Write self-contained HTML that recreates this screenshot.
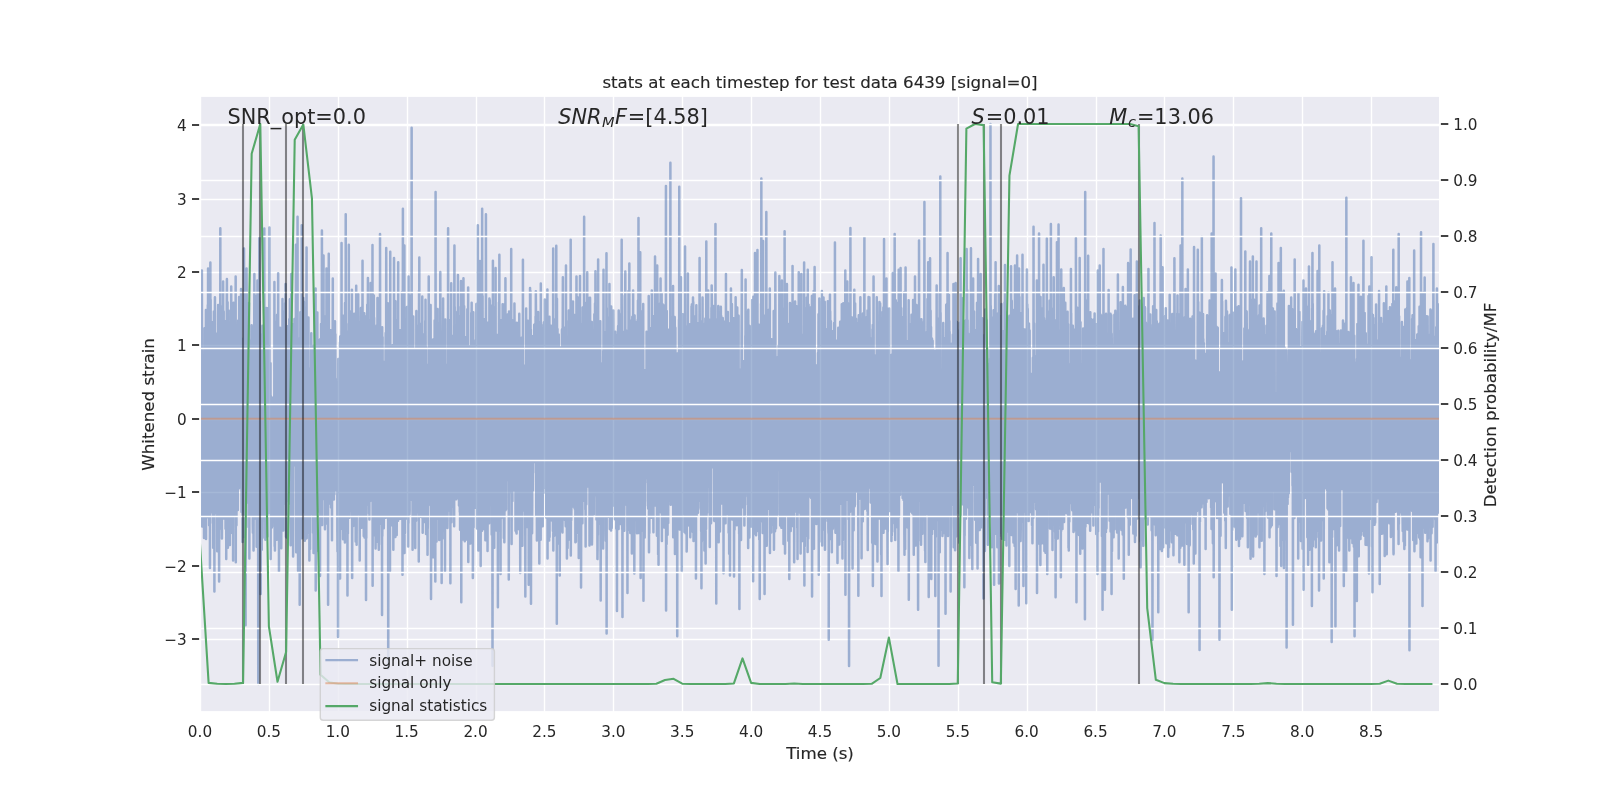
<!DOCTYPE html>
<html lang="en"><head><meta charset="utf-8"><title>stats at each timestep</title>
<style>html,body{margin:0;padding:0;background:#fff}body{width:1600px;height:800px;overflow:hidden}svg{display:block;will-change:transform}text{font-family:'DejaVu Sans','Liberation Sans',sans-serif;fill:#262626}.tk{font-size:15.28px}.lb{font-size:16.67px;stroke:#262626;stroke-width:.15px}.an{font-size:20.83px}.g{stroke:#fff;stroke-width:1.39;fill:none}.t{stroke:#262626;stroke-width:1.74;fill:none}</style></head><body>
<svg width="1600" height="800" viewBox="0 0 1600 800">
<defs><clipPath id="ax"><rect x="200" y="96" width="1240" height="616"/></clipPath></defs>
<rect width="1600" height="800" fill="#fff"/>
<rect x="200" y="96" width="1240" height="616" fill="#eaeaf2"/>
<g class="g" clip-path="url(#ax)">
<path d="M200.5 96V712"/>
<path d="M269.5 96V712"/>
<path d="M338.5 96V712"/>
<path d="M407.5 96V712"/>
<path d="M476.5 96V712"/>
<path d="M544.5 96V712"/>
<path d="M613.5 96V712"/>
<path d="M682.5 96V712"/>
<path d="M751.5 96V712"/>
<path d="M820.5 96V712"/>
<path d="M889.5 96V712"/>
<path d="M958.5 96V712"/>
<path d="M1027.5 96V712"/>
<path d="M1096.5 96V712"/>
<path d="M1164.5 96V712"/>
<path d="M1233.5 96V712"/>
<path d="M1302.5 96V712"/>
<path d="M1371.5 96V712"/>
<path d="M200 639.5H1440"/>
<path d="M200 566.5H1440"/>
<path d="M200 492.5H1440"/>
<path d="M200 419.5H1440"/>
<path d="M200 345.5H1440"/>
<path d="M200 272.5H1440"/>
<path d="M200 199.5H1440"/>
<path d="M200 125.5H1440"/>
</g>
<g clip-path="url(#ax)">
<path d="M200 418.59L200.13 391.34L200.27 443.81L200.4 498.97L200.54 460.35L200.67 504.96L200.81 413.19L200.94 311.16L201.08 463.78L201.21 475.53L201.35 373.83L201.48 386.01L201.61 409.04L201.75 501.33L201.88 270.38L202.02 355.01L202.15 526.49L202.29 460.62L202.42 357.86L202.56 523.1L202.69 428.96L202.83 440.23L202.96 521.73L203.09 393.85L203.23 404.34L203.36 435.82L203.5 439.26L203.63 468.04L203.77 423.14L203.9 408.32L204.04 538L204.17 462.46L204.31 504.18L204.44 492.79L204.57 328.33L204.71 492.67L204.84 421.68L204.98 338.8L205.11 472.16L205.25 428.93L205.38 408.58L205.52 412.86L205.65 519.11L205.79 411.73L205.92 310.01L206.05 539.05L206.19 340.29L206.32 407.77L206.46 477.46L206.59 495.21L206.73 348.88L206.86 517.51L207 411.87L207.13 365.88L207.27 435.99L207.4 356.15L207.53 424.79L207.67 357.58L207.8 305.07L207.94 480.59L208.07 268.5L208.21 461.14L208.34 407.04L208.48 516.76L208.61 471.76L208.75 436.67L208.88 337.95L209.01 323.24L209.15 525.2L209.28 491.49L209.42 359.45L209.55 342.48L209.69 461.12L209.82 427.61L209.96 567.88L210.09 355.55L210.23 448.67L210.36 262.62L210.49 441.62L210.63 299.81L210.76 457.91L210.9 446.52L211.03 386.4L211.17 429.76L211.3 436.77L211.44 512.23L211.57 419.76L211.71 459.33L211.84 321.94L211.97 358.88L212.11 420.91L212.24 357.48L212.38 449.83L212.51 328.85L212.65 419.19L212.78 365.26L212.92 523.18L213.05 386.95L213.19 547.74L213.32 337.44L213.45 446.59L213.59 499.52L213.72 403.67L213.86 311.49L213.99 494.88L214.13 475.85L214.26 399.89L214.4 591.62L214.53 434.86L214.67 437.56L214.8 354.36L214.93 297.25L215.07 507.45L215.2 425.95L215.34 415.47L215.47 508.69L215.61 394.9L215.74 497.03L215.88 333.6L216.01 401.05L216.15 410.52L216.28 472.84L216.41 429.56L216.55 347.98L216.68 513.31L216.82 385.47L216.95 372.88L217.09 341.15L217.22 551.28L217.36 349.39L217.49 496.14L217.63 347.35L217.76 406.71L217.89 538.41L218.03 316.8L218.16 304.88L218.3 424.73L218.43 443.79L218.57 433.34L218.7 503.98L218.84 326.1L218.97 468.43L219.11 581.62L219.24 491.36L219.38 476.05L219.51 522.37L219.64 316.31L219.78 432.81L219.91 333.97L220.05 417.48L220.18 482.3L220.32 228.25L220.45 470.02L220.59 417.97L220.72 453.07L220.86 446.17L220.99 528.61L221.12 492.6L221.26 460.86L221.39 480.18L221.53 508.66L221.66 387.8L221.8 307.01L221.93 538.5L222.07 437.8L222.2 476.59L222.34 408.56L222.47 351.38L222.6 420.85L222.74 412.16L222.87 487.61L223.01 377.04L223.14 281.62L223.28 431.79L223.41 511.88L223.55 518.55L223.68 311.45L223.82 465.15L223.95 391.98L224.08 421.8L224.22 459.11L224.35 465.23L224.49 360.99L224.62 446.35L224.76 432.57L224.89 416.66L225.03 321.3L225.16 356.37L225.3 383.66L225.43 470.32L225.56 528.82L225.7 334.94L225.83 333.93L225.97 431.59L226.1 369.07L226.24 559.12L226.37 342.57L226.51 336.61L226.64 460.43L226.78 300.34L226.91 279.12L227.04 340.15L227.18 373.46L227.31 339.44L227.45 373.07L227.58 302.23L227.72 514.16L227.85 547.77L227.99 343.88L228.12 506.35L228.26 419.84L228.39 341.78L228.52 545.02L228.66 310.46L228.79 394.95L228.93 414.63L229.06 441.21L229.2 415.17L229.33 497.18L229.47 536.97L229.6 433.96L229.74 503.78L229.87 545L230 372.38L230.14 424.32L230.27 381.46L230.41 504.82L230.54 478.98L230.68 505.4L230.81 498.73L230.95 400.8L231.08 490.42L231.22 286.38L231.35 387.58L231.48 511.8L231.62 529.49L231.75 338.59L231.89 426.9L232.02 419.99L232.16 533.03L232.29 460.85L232.43 350.63L232.56 426.25L232.7 411.28L232.83 445.33L232.96 322.66L233.1 560.38L233.23 429.47L233.37 482.09L233.5 338.67L233.64 302.67L233.77 467.26L233.91 311.57L234.04 414.38L234.18 515.85L234.31 501.94L234.44 324.14L234.58 404.26L234.71 414.3L234.85 423.6L234.98 415.18L235.12 344.93L235.25 368.09L235.39 398.94L235.52 508L235.66 276.38L235.79 562.25L235.92 326.38L236.06 521.96L236.19 431.31L236.33 419.37L236.46 525.27L236.6 408.97L236.73 483.11L236.87 461.16L237 348.01L237.14 384.01L237.27 406.7L237.4 395.76L237.54 424.32L237.67 411.08L237.81 510.02L237.94 443.37L238.08 435.03L238.21 320.58L238.35 388.07L238.48 419.21L238.62 460.78L238.75 469.56L238.88 454.37L239.02 488.19L239.15 296.99L239.29 334.06L239.42 336.88L239.56 357.43L239.69 408.61L239.83 398.96L239.96 441.78L240.1 437.35L240.23 413.73L240.36 445.96L240.5 367.8L240.63 424.05L240.77 471.77L240.9 476.86L241.04 289.12L241.17 372.29L241.31 412.51L241.44 450.41L241.58 511.93L241.71 424.82L241.84 339.44L241.98 454.66L242.11 439.51L242.25 438.95L242.38 408.66L242.52 541.89L242.65 440.26L242.79 496.82L242.92 338.79L243.06 489.28L243.19 537.25L243.32 339.12L243.46 447.42L243.59 473.8L243.73 401.17L243.86 418.89L244 248.5L244.13 376.48L244.27 532.3L244.4 442.34L244.54 437.28L244.67 508.12L244.8 389.47L244.94 520.46L245.07 511.8L245.21 314.91L245.34 499.85L245.48 327.12L245.61 625.31L245.75 394.95L245.88 368.01L246.02 425.54L246.15 436.72L246.28 473.02L246.42 527.04L246.55 268.5L246.69 302.56L246.82 334.34L246.96 502.02L247.09 496.88L247.23 464.88L247.36 391.93L247.5 437.51L247.63 399.06L247.76 391.52L247.9 446.07L248.03 422.38L248.17 399.78L248.3 426.39L248.44 372.58L248.57 502.38L248.71 364.48L248.84 413.59L248.98 302.89L249.11 383.16L249.24 470.96L249.38 558.5L249.51 340.57L249.65 354.01L249.78 432.43L249.92 457.33L250.05 452.71L250.19 480.87L250.32 360.37L250.46 479.29L250.59 398.83L250.72 490.08L250.86 515.73L250.99 423.84L251.13 434.89L251.26 514.55L251.4 408.04L251.53 514.52L251.67 325.29L251.8 328.23L251.94 326.92L252.07 462.12L252.2 371.57L252.34 430.8L252.47 454.31L252.61 449.76L252.74 523.73L252.88 532.66L253.01 345.94L253.15 436.22L253.28 398.88L253.42 331.84L253.55 550.49L253.68 490.52L253.82 402.64L253.95 382.79L254.09 453.24L254.22 330.21L254.36 274.12L254.49 518.38L254.63 501.35L254.76 344.92L254.9 376.21L255.03 356.68L255.16 310.7L255.3 363.92L255.43 310.97L255.57 453.85L255.7 445.79L255.84 513L255.97 330.74L256.11 434.77L256.24 295.85L256.38 477.99L256.51 403.69L256.64 546.71L256.78 453.77L256.91 332.91L257.05 520.76L257.18 327.66L257.32 387.81L257.45 280.38L257.59 464.64L257.72 460.75L257.86 423.24L257.99 467.81L258.12 494.48L258.26 684L258.39 507.05L258.53 523.1L258.66 423.11L258.8 338.89L258.93 537.95L259.07 418.38L259.2 478.23L259.34 237.25L259.47 340.64L259.61 466.16L259.74 301.37L259.87 490.13L260.01 383.3L260.14 439.52L260.28 487.77L260.41 364.87L260.55 432.9L260.68 594.12L260.82 423.03L260.95 510.55L261.09 428.05L261.22 413.94L261.35 334.41L261.49 499.9L261.62 422.3L261.76 549.8L261.89 359.03L262.03 510.29L262.16 502.4L262.3 424.12L262.43 325.67L262.57 537.65L262.7 510.68L262.83 486.78L262.97 513.19L263.1 383.95L263.24 492.65L263.37 484.79L263.51 365.27L263.64 487.9L263.78 379.06L263.91 503.76L264.05 518.31L264.18 453.63L264.31 228.5L264.45 448.03L264.58 396.36L264.72 421.54L264.85 404.05L264.99 414.15L265.12 506.24L265.26 507.77L265.39 539.69L265.53 506.17L265.66 525.9L265.79 350.28L265.93 343.56L266.06 503.16L266.2 529.35L266.33 451.2L266.47 308.01L266.6 321.41L266.74 370.46L266.87 509.95L267.01 329.55L267.14 510.08L267.27 444.84L267.41 536.52L267.54 504.11L267.68 308.34L267.81 343.54L267.95 455.49L268.08 497.75L268.22 410.38L268.35 454.76L268.49 421.53L268.62 426.4L268.75 427.29L268.89 512.71L269.02 424.77L269.16 422.24L269.29 314.24L269.43 227.5L269.56 431.25L269.7 488.89L269.83 424.65L269.97 474.36L270.1 486.7L270.23 424.07L270.37 508.02L270.5 363.18L270.64 559.12L270.77 395.8L270.91 435.46L271.04 485.31L271.18 502.37L271.31 440.43L271.45 468.96L271.58 397.28L271.71 419.11L271.85 527.61L271.98 412.55L272.12 526.4L272.25 475.17L272.39 445.66L272.52 513.09L272.66 410.32L272.79 404.87L272.93 433.17L273.06 457.57L273.19 452.92L273.33 504.06L273.46 443.4L273.6 469.32L273.73 410.3L273.87 517.81L274 397.12L274.14 405.58L274.27 431.67L274.41 281.88L274.54 368.11L274.67 546.29L274.81 376.52L274.94 550.38L275.08 392.74L275.21 383.59L275.35 478.57L275.48 442.47L275.62 360.35L275.75 379.25L275.89 399.77L276.02 537.02L276.15 369.43L276.29 321.74L276.42 331.37L276.56 397.28L276.69 539.71L276.83 335.35L276.96 432.19L277.1 314.72L277.23 384.15L277.37 535.65L277.5 523.53L277.63 476.86L277.77 315.35L277.9 452.67L278.04 393.88L278.17 273.25L278.31 481.63L278.44 428.17L278.58 440.82L278.71 521.32L278.85 482.31L278.98 571.62L279.11 382.45L279.25 408.6L279.38 332.25L279.52 489.45L279.65 423.84L279.79 351.72L279.92 365.19L280.06 327.74L280.19 382.33L280.33 447.04L280.46 385.52L280.59 505.61L280.73 544.76L280.86 365.51L281 423.75L281.13 390.45L281.27 548.32L281.4 452.14L281.54 473.64L281.67 497.4L281.81 470.03L281.94 449.37L282.07 338.04L282.21 383.8L282.34 473.74L282.48 299.12L282.61 349.38L282.75 427.06L282.88 430.11L283.02 368.94L283.15 356.22L283.29 530.39L283.42 323.87L283.55 390.07L283.69 391.04L283.82 346.62L283.96 468.1L284.09 422.38L284.23 337.51L284.36 486.94L284.5 433.29L284.63 423.13L284.77 400.52L284.9 310.98L285.03 421.48L285.17 303.16L285.3 503.48L285.44 435.74L285.57 284.12L285.71 346.66L285.84 329.26L285.98 536.72L286.11 500.42L286.25 387.85L286.38 479.03L286.51 537.52L286.65 329.66L286.78 373.45L286.92 373.53L287.05 462.25L287.19 330.23L287.32 440.68L287.46 326.22L287.59 500.22L287.73 496.8L287.86 399.95L287.99 483.03L288.13 356.83L288.26 394.88L288.4 500.89L288.53 412.03L288.67 450.88L288.8 336.94L288.94 476.64L289.07 458.93L289.21 319.15L289.34 360.38L289.47 418.82L289.61 412.91L289.74 398.65L289.88 299.19L290.01 430.1L290.15 504.05L290.28 407.99L290.42 377.34L290.55 494.65L290.69 545.17L290.82 532.22L290.95 357.75L291.09 488.16L291.22 274.12L291.36 399.23L291.49 361.99L291.63 449.38L291.76 373.02L291.9 498.93L292.03 451.83L292.17 506.9L292.3 324.07L292.43 421.18L292.57 486.42L292.7 450.98L292.84 439.01L292.97 354.53L293.11 556.62L293.24 507.66L293.38 453.33L293.51 403.88L293.65 334.57L293.78 428.91L293.91 353.48L294.05 330.48L294.18 440.11L294.32 452.26L294.45 319.11L294.59 373.44L294.72 357.21L294.86 465.25L294.99 373.53L295.13 328.57L295.26 366.86L295.39 356.02L295.53 412.85L295.66 360.29L295.8 436.48L295.93 244.75L296.07 356.19L296.2 552.25L296.34 497.18L296.47 385L296.61 486.61L296.74 448.94L296.88 474.07L297.01 449.99L297.14 288.19L297.28 318.8L297.41 395.49L297.55 216.79L297.68 546.96L297.82 416.63L297.95 526.62L298.09 571L298.22 517.98L298.36 464.67L298.49 411.4L298.62 512.66L298.76 387.33L298.89 536.77L299.03 391.46L299.16 428.73L299.3 447.43L299.43 425.39L299.57 468.14L299.7 604.75L299.84 547.41L299.97 421.41L300.1 337.47L300.24 407.77L300.37 312.3L300.51 354.05L300.64 480.66L300.78 324.3L300.91 423.84L301.05 425.01L301.18 445.38L301.32 410.28L301.45 458.56L301.58 426.37L301.72 225.31L301.85 452.93L301.99 538.26L302.12 425.07L302.26 440.56L302.39 369.94L302.53 353.84L302.66 512.21L302.8 437.68L302.93 336.79L303.06 393.98L303.2 407.53L303.33 297.92L303.47 480.78L303.6 411.12L303.74 466.34L303.87 301.87L304.01 509.64L304.14 480.08L304.28 467.17L304.41 357.92L304.54 363.17L304.68 307.76L304.81 540.72L304.95 349.96L305.08 445.56L305.22 479.67L305.35 369.28L305.49 500.72L305.62 385.91L305.76 452.61L305.89 536L306.02 478.14L306.16 384.67L306.29 538.5L306.43 295.88L306.56 247.5L306.7 538.2L306.83 487.96L306.97 500.67L307.1 518.66L307.24 378.82L307.37 477.8L307.5 457.88L307.64 354.86L307.77 428.91L307.91 386.01L308.04 409.02L308.18 360.84L308.31 415.22L308.45 317.6L308.58 379.77L308.72 382.79L308.85 381.16L308.98 533.45L309.12 433.78L309.25 442.45L309.39 560.38L309.52 527.38L309.66 404.53L309.79 409.14L309.93 518.26L310.06 549.01L310.2 444.46L310.33 426.91L310.46 484.49L310.6 410.26L310.73 477.43L310.87 368.17L311 485.07L311.14 422.23L311.27 333.2L311.41 359.22L311.54 505.91L311.68 461.25L311.81 495.63L311.94 346.86L312.08 514.34L312.21 463.07L312.35 421.41L312.48 504.19L312.62 502.92L312.75 462.27L312.89 406.54L313.02 532.76L313.16 456.53L313.29 405.12L313.42 435.71L313.56 552.99L313.69 461.18L313.83 345.57L313.96 367.78L314.1 425.91L314.23 498.77L314.37 360.88L314.5 471.73L314.64 515.65L314.77 492.18L314.9 304.47L315.04 398.53L315.17 322.37L315.31 462.61L315.44 335.61L315.58 288.5L315.71 590.38L315.85 406.94L315.98 348.43L316.12 464.61L316.25 426.47L316.38 388.82L316.52 319.2L316.65 463.5L316.79 550.99L316.92 444.31L317.06 417.29L317.19 408.67L317.33 312.62L317.46 389.69L317.6 344.24L317.73 511.45L317.86 339.78L318 395.41L318.13 347.9L318.27 395.48L318.4 404.6L318.54 434.03L318.67 501.14L318.81 428.88L318.94 376.55L319.08 350.55L319.21 458.76L319.34 390.55L319.48 444.16L319.61 407.67L319.75 430.8L319.88 513.94L320.02 576L320.15 339.23L320.29 503.5L320.42 440.78L320.56 357.81L320.69 509.6L320.82 401.97L320.96 509.02L321.09 323.89L321.23 386.21L321.36 330.8L321.5 438.78L321.63 350.9L321.77 407.62L321.9 230.38L322.04 298.31L322.17 524.94L322.3 328.66L322.44 423.19L322.57 306.93L322.71 401.55L322.84 480.31L322.98 393.31L323.11 351.29L323.25 415.42L323.38 374L323.52 255.38L323.65 499.07L323.78 337.88L323.92 354.66L324.05 405.13L324.19 412.43L324.32 329.79L324.46 460.57L324.59 483.42L324.73 435.97L324.86 320.52L325 529.14L325.13 320.35L325.26 477.25L325.4 511.43L325.53 316.13L325.67 427.57L325.8 523.76L325.94 451.56L326.07 336.03L326.21 320.34L326.34 457.82L326.48 268.5L326.61 353.29L326.74 477.75L326.88 386.18L327.01 421.62L327.15 467.8L327.28 463.78L327.42 412.56L327.55 415.97L327.69 470.5L327.82 457.72L327.96 325.21L328.09 604.75L328.22 338.76L328.36 319.73L328.49 364.76L328.63 389.23L328.76 253.75L328.9 344.65L329.03 447.84L329.17 335.62L329.3 432.3L329.44 423.05L329.57 503.61L329.7 357.85L329.84 346.35L329.97 351.23L330.11 425.19L330.24 377.01L330.38 358.89L330.51 425.83L330.65 330.32L330.78 456.34L330.92 360.65L331.05 507.48L331.18 334.4L331.32 439.65L331.45 498.86L331.59 384.45L331.72 500.2L331.86 500.28L331.99 540.3L332.13 421.15L332.26 373.19L332.4 330.58L332.53 431.68L332.66 329.11L332.8 278.5L332.93 427.24L333.07 366.16L333.2 328.48L333.34 449.97L333.47 441.03L333.61 433.43L333.74 411.12L333.88 499.55L334.01 330.28L334.14 455.38L334.28 376.34L334.41 494.31L334.55 385.83L334.68 382.83L334.82 457.23L334.95 321.36L335.09 384.71L335.22 469.95L335.36 334.37L335.49 479.36L335.62 453.71L335.76 378.75L335.89 413.1L336.03 414.17L336.16 444.92L336.3 490.09L336.43 439.35L336.57 444.97L336.7 384.64L336.84 485.2L336.97 484.23L337.11 438.79L337.24 393.72L337.37 531.92L337.51 551.44L337.64 509.38L337.78 478.15L337.91 503.49L338.05 637.07L338.18 508.81L338.32 359.03L338.45 528.18L338.59 391.3L338.72 447.99L338.85 424.18L338.99 366.6L339.12 440.69L339.26 400.87L339.39 407.31L339.53 503.88L339.66 365.27L339.8 441.24L339.93 342.49L340.07 578.5L340.2 336.39L340.33 515.81L340.47 445.87L340.6 338.98L340.74 450.82L340.87 491.26L341.01 443.05L341.14 528.7L341.28 407.8L341.41 409.56L341.55 243.12L341.68 511.92L341.81 497.94L341.95 455.77L342.08 331.68L342.22 493.95L342.35 481.92L342.49 338.78L342.62 339.97L342.76 452.94L342.89 512.46L343.03 539.21L343.16 482.73L343.29 315.64L343.43 350.02L343.56 476.41L343.7 374.62L343.83 409.53L343.97 321.52L344.1 514.53L344.24 339.7L344.37 322.45L344.51 487.06L344.64 502.69L344.77 428.75L344.91 542.41L345.04 303.08L345.18 383.72L345.31 511.79L345.45 443.39L345.58 439.5L345.72 214.29L345.85 393.84L345.99 438.27L346.12 323.75L346.25 435.08L346.39 418.72L346.52 484.15L346.66 406.56L346.79 398.48L346.93 500.22L347.06 477.41L347.2 346.1L347.33 386.73L347.47 595.38L347.6 420.12L347.73 331.44L347.87 533.81L348 391.06L348.14 439.87L348.27 346.9L348.41 398.45L348.54 437.76L348.68 468.27L348.81 244.75L348.95 469.14L349.08 350.47L349.21 455.17L349.35 459.11L349.48 517.69L349.62 423.24L349.75 499.17L349.89 435.26L350.02 329.46L350.16 385.18L350.29 372.47L350.43 386.08L350.56 413.28L350.69 430.36L350.83 446.89L350.96 349.17L351.1 510.45L351.23 311.13L351.37 415.58L351.5 487.28L351.64 463.5L351.77 480.71L351.91 289.75L352.04 484.45L352.17 577.88L352.31 490.3L352.44 369.95L352.58 485.66L352.71 411.59L352.85 422.35L352.98 328.43L353.12 359.37L353.25 526.08L353.39 488.52L353.52 521.32L353.65 389.53L353.79 418.32L353.92 328.62L354.06 370.12L354.19 313.86L354.33 405.93L354.46 386.21L354.6 362.18L354.73 474.82L354.87 508.94L355 413.9L355.13 502.32L355.27 424.33L355.4 409.9L355.54 373.58L355.67 541.62L355.81 429.86L355.94 433.75L356.08 378.64L356.21 285.75L356.35 463.63L356.48 493.93L356.61 544.83L356.75 501.08L356.88 369.56L357.02 414.52L357.15 506.37L357.29 452.84L357.42 415.82L357.56 372.56L357.69 473.05L357.83 441.64L357.96 422.22L358.09 514.54L358.23 293.98L358.36 488.63L358.5 449.64L358.63 398.62L358.77 452.99L358.9 492.72L359.04 424.29L359.17 419.15L359.31 426.22L359.44 376.17L359.57 432.2L359.71 560.38L359.84 468.87L359.98 397.91L360.11 360.01L360.25 338.07L360.38 464.17L360.52 336.45L360.65 321.47L360.79 323.77L360.92 308.09L361.05 432.04L361.19 434.65L361.32 343.13L361.46 527.87L361.59 399.52L361.73 467.3L361.86 452.48L362 323.07L362.13 498.96L362.27 420.58L362.4 338.56L362.53 260.75L362.67 426.06L362.8 436.04L362.94 494.79L363.07 381.85L363.21 441.38L363.34 363.2L363.48 412.81L363.61 421.67L363.75 535.97L363.88 497.2L364.01 533.54L364.15 517.38L364.28 313.33L364.42 397.94L364.55 537.38L364.69 358.83L364.82 316.11L364.96 451.66L365.09 480.62L365.23 449.6L365.36 392.63L365.49 360.08L365.63 320.95L365.76 319.07L365.9 320.75L366.03 600L366.17 358.12L366.3 538.05L366.44 430.7L366.57 389.95L366.71 453.79L366.84 337.21L366.97 451.69L367.11 501.05L367.24 304.72L367.38 357.7L367.51 398.62L367.65 336.29L367.78 328.23L367.92 277.88L368.05 428.7L368.19 480.58L368.32 460.52L368.45 504.52L368.59 400.5L368.72 320.33L368.86 463.12L368.99 513.52L369.13 485.08L369.26 460.05L369.4 519.6L369.53 396.93L369.67 379.71L369.8 483.28L369.93 346.3L370.07 463.34L370.2 500.88L370.34 402.34L370.47 348.1L370.61 282.88L370.74 388.42L370.88 427.26L371.01 420.1L371.15 483.6L371.28 308.44L371.41 423.49L371.55 430.31L371.68 352.6L371.82 338.23L371.95 315.69L372.09 388.6L372.22 473.69L372.36 467.95L372.49 245L372.63 585.75L372.76 307.58L372.89 380.37L373.03 328.37L373.16 465L373.3 403.6L373.43 535.24L373.57 516.27L373.7 532.28L373.84 295.59L373.97 496.32L374.11 317.87L374.24 365.05L374.38 396.48L374.51 331.76L374.64 428.08L374.78 437.02L374.91 410.9L375.05 402.65L375.18 467.31L375.32 421.69L375.45 467.2L375.59 548.59L375.72 395.02L375.86 499.94L375.99 401.57L376.12 341.77L376.26 423.98L376.39 347.9L376.53 541.7L376.66 325.6L376.8 473.94L376.93 361.69L377.07 401.99L377.2 466.38L377.34 487.95L377.47 297.88L377.6 297.92L377.74 392.39L377.87 395.1L378.01 530.73L378.14 492.73L378.28 340.36L378.41 416.08L378.55 438.83L378.68 543.51L378.82 549.75L378.95 355.62L379.08 353.01L379.22 315.9L379.35 369.05L379.49 504.57L379.62 311.38L379.76 519.7L379.89 438L380.03 234.12L380.16 338.89L380.3 380.6L380.43 383.27L380.56 488.45L380.7 523.09L380.83 413.07L380.97 483.75L381.1 524.23L381.24 521.64L381.37 463.59L381.51 362.86L381.64 526.69L381.78 544.49L381.91 402.01L382.04 615.11L382.18 327.36L382.31 535.98L382.45 480.95L382.58 337.13L382.72 438.56L382.85 448.65L382.99 457.88L383.12 449.7L383.26 514.84L383.39 524.8L383.52 387.95L383.66 390.74L383.79 528.19L383.93 504.59L384.06 369.72L384.2 365.82L384.33 477.62L384.47 361.71L384.6 366.32L384.74 408.37L384.87 447.28L385 380.68L385.14 471.19L385.27 435.7L385.41 444.62L385.54 349.81L385.68 332.94L385.81 517.82L385.95 461.11L386.08 513.04L386.22 247.88L386.35 317.73L386.48 332.95L386.62 405L386.75 515.17L386.89 361.31L387.02 484.21L387.16 378.69L387.29 424.45L387.43 353.84L387.56 401.49L387.7 500.21L387.83 303.28L387.96 385.42L388.1 420.02L388.23 668.87L388.37 517.71L388.5 434.94L388.64 412.03L388.77 348.23L388.91 410.28L389.04 504.95L389.18 433.76L389.31 428.68L389.44 521.95L389.58 313.8L389.71 422.81L389.85 319.29L389.98 571L390.12 449.56L390.25 251.87L390.39 520.14L390.52 444.25L390.66 525.04L390.79 407.94L390.92 481.23L391.06 487.59L391.19 398.01L391.33 499.36L391.46 514.43L391.6 519.78L391.73 459.14L391.87 525.2L392 374.45L392.14 484.31L392.27 354.13L392.4 449.32L392.54 345.29L392.67 392.05L392.81 393.08L392.94 363.08L393.08 471.78L393.21 455.74L393.35 549.76L393.48 459.17L393.62 531.32L393.75 431.95L393.88 502.94L394.02 257.88L394.15 377.18L394.29 531.19L394.42 493.19L394.56 502.09L394.69 350.32L394.83 381.82L394.96 340.75L395.1 450.71L395.23 303.43L395.36 537.01L395.5 301.31L395.63 478.81L395.77 455.48L395.9 492.4L396.04 524.39L396.17 507.35L396.31 403.22L396.44 438.35L396.58 409.34L396.71 535.1L396.84 481.12L396.98 375.84L397.11 398.3L397.25 319.89L397.38 411.4L397.52 495.07L397.65 484.26L397.79 394.95L397.92 373.23L398.06 520.85L398.19 262.25L398.32 502.06L398.46 370.09L398.59 424.36L398.73 508.1L398.86 450.6L399 465.8L399.13 463.34L399.27 349.67L399.4 358.95L399.54 471.59L399.67 499.94L399.8 392.84L399.94 427.86L400.07 330.27L400.21 518.69L400.34 341.49L400.48 421.88L400.61 434.46L400.75 496.95L400.88 499.92L401.02 505.66L401.15 454.91L401.28 457.82L401.42 350.58L401.55 455.25L401.69 436.79L401.82 518.69L401.96 292.33L402.09 372.26L402.23 333.63L402.36 345.71L402.5 574.75L402.63 441.46L402.76 353.01L402.9 208.78L403.03 519.01L403.17 321.31L403.3 544.53L403.44 380.13L403.57 348.61L403.71 314.91L403.84 480.1L403.98 380.47L404.11 498.81L404.24 482.02L404.38 245.38L404.51 552.88L404.65 404.98L404.78 376.29L404.92 533.09L405.05 484.16L405.19 320.86L405.32 350.59L405.46 452.27L405.59 427.06L405.72 367.3L405.86 380.1L405.99 326.07L406.13 349.15L406.26 448.62L406.4 484.05L406.53 330.78L406.67 384.03L406.8 429.18L406.94 307.02L407.07 518.4L407.2 403.39L407.34 480.32L407.47 437.21L407.61 458.02L407.74 407.89L407.88 460.54L408.01 379.09L408.15 546.62L408.28 338.06L408.42 522.92L408.55 276.38L408.68 428.57L408.82 505.37L408.95 419.26L409.09 511.2L409.22 460.54L409.36 296.22L409.49 514.37L409.63 510.79L409.76 327.4L409.9 407.78L410.03 296.02L410.16 388.23L410.3 499.94L410.43 424.94L410.57 315.87L410.7 333.87L410.84 418.62L410.97 414.11L411.11 429.3L411.24 473.17L411.38 393.05L411.51 418.02L411.64 127.69L411.78 463.62L411.91 350.29L412.05 358.29L412.18 431.62L412.32 481.65L412.45 416.45L412.59 549.73L412.72 526.13L412.86 343.46L412.99 463.84L413.12 383.39L413.26 316.59L413.39 357.52L413.53 416.76L413.66 504.69L413.8 355.82L413.93 452.08L414.07 349.76L414.2 380.29L414.34 498.34L414.47 411.83L414.61 434.24L414.74 358.22L414.87 434.94L415.01 445.36L415.14 459.98L415.28 547.92L415.41 452.1L415.55 422.44L415.68 409.1L415.82 515.53L415.95 359.14L416.09 520.63L416.22 439.77L416.35 311.07L416.49 483.89L416.62 466.79L416.76 325.81L416.89 454.85L417.03 446.66L417.16 397.87L417.3 327.29L417.43 340.72L417.57 496.63L417.7 507.53L417.83 512.25L417.97 498.21L418.1 497.24L418.24 390.38L418.37 500.24L418.51 407.2L418.64 381.02L418.78 561.62L418.91 406.44L419.05 290.31L419.18 388.47L419.31 257.62L419.45 424.79L419.58 501.77L419.72 393.32L419.85 338.92L419.99 495.45L420.12 438.3L420.26 323.73L420.39 465.28L420.53 401.1L420.66 508.19L420.79 495.35L420.93 466.65L421.06 516.92L421.2 456.17L421.33 467.24L421.47 470.29L421.6 433.87L421.74 358.62L421.87 401.34L422.01 386.23L422.14 399.12L422.27 296.62L422.41 393.35L422.54 363.23L422.68 532.64L422.81 430.34L422.95 425.02L423.08 440.95L423.22 334.33L423.35 339.03L423.49 454.16L423.62 458.83L423.75 442.07L423.89 439.59L424.02 381.41L424.16 521.95L424.29 501.36L424.43 392.08L424.56 405.37L424.7 453.2L424.83 471.27L424.97 495.13L425.1 424.05L425.23 321.04L425.37 508.9L425.5 299.82L425.64 341.39L425.77 460.19L425.91 346.97L426.04 534.02L426.18 514.37L426.31 523.12L426.45 456.23L426.58 448.51L426.71 465.89L426.85 409.59L426.98 528.46L427.12 373.33L427.25 531.14L427.39 479.23L427.52 554.75L427.66 514.84L427.79 528.14L427.93 505.82L428.06 419.79L428.19 364.66L428.33 367.02L428.46 505.13L428.6 491.21L428.73 276.38L428.87 377.5L429 420.9L429.14 317.47L429.27 463.11L429.41 490.47L429.54 387.61L429.67 330.01L429.81 387.32L429.94 328.82L430.08 406.39L430.21 318.01L430.35 317.05L430.48 427.81L430.62 305.03L430.75 403.61L430.89 410.74L431.02 599.12L431.15 445.15L431.29 347.48L431.42 524.53L431.56 359.2L431.69 386.77L431.83 393.28L431.96 406.16L432.1 428.16L432.23 359.32L432.37 488.58L432.5 410.43L432.63 484.89L432.77 357.2L432.9 479.38L433.04 339.58L433.17 557.2L433.31 355.29L433.44 440.4L433.58 344.73L433.71 501.05L433.85 475.35L433.98 487.59L434.11 494.72L434.25 483.37L434.38 444.03L434.52 506.79L434.65 320.44L434.79 338.44L434.92 483.19L435.06 499.19L435.19 321.58L435.33 581.62L435.46 343.44L435.59 192.03L435.73 497.6L435.86 434.13L436 528.96L436.13 531.07L436.27 333.07L436.4 480.24L436.54 541.48L436.67 411.91L436.81 477.36L436.94 345.62L437.07 453.17L437.21 374.17L437.34 518.62L437.48 384.72L437.61 308.97L437.75 463.88L437.88 489.56L438.02 330.97L438.15 405.88L438.29 511.54L438.42 453.48L438.55 487.92L438.69 391.56L438.82 408.65L438.96 322.91L439.09 353.7L439.23 540.07L439.36 381.42L439.5 338.06L439.63 376.94L439.77 330.16L439.9 469.04L440.03 502.54L440.17 336.09L440.3 272L440.44 311L440.57 330.44L440.71 485.03L440.84 446.73L440.98 529.82L441.11 525.33L441.25 514.87L441.38 451.73L441.51 384.81L441.65 582.88L441.78 349.8L441.92 516.44L442.05 509.39L442.19 356.61L442.32 425.54L442.46 538.39L442.59 419.15L442.73 497.19L442.86 396.05L442.99 400.39L443.13 298.5L443.26 460.44L443.4 331.46L443.53 486.65L443.67 324.67L443.8 488.59L443.94 451.88L444.07 521.51L444.21 389.67L444.34 408.65L444.47 423.93L444.61 385.6L444.74 493.46L444.88 351.41L445.01 571L445.15 324.28L445.28 319.47L445.42 471.18L445.55 476.21L445.69 402.53L445.82 417.4L445.95 504.13L446.09 366.67L446.22 451.74L446.36 458.35L446.49 455.7L446.63 443.73L446.76 390.56L446.9 519.29L447.03 364.79L447.17 435.2L447.3 478.26L447.43 527.89L447.57 516.51L447.7 385.7L447.84 503.31L447.97 412.82L448.11 228.25L448.24 330.01L448.38 360.02L448.51 445.84L448.65 510.51L448.78 330.73L448.91 390.34L449.05 324.55L449.18 417.69L449.32 320.11L449.45 341.17L449.59 353.08L449.72 372.58L449.86 382.27L449.99 397.35L450.13 398.01L450.26 332.53L450.39 583.25L450.53 326.92L450.66 428.43L450.8 332.81L450.93 426.97L451.07 441.29L451.2 283.25L451.34 447.03L451.47 522.34L451.61 484.11L451.74 447.76L451.88 453.64L452.01 399.76L452.14 335.82L452.28 505.55L452.41 386.4L452.55 357.19L452.68 467.21L452.82 482.48L452.95 363.42L453.09 390.98L453.22 506.74L453.36 420.48L453.49 442.83L453.62 373.47L453.76 363.86L453.89 369.22L454.03 458.9L454.16 526.14L454.3 302.51L454.43 245.38L454.57 330.95L454.7 306.82L454.84 466.41L454.97 344.31L455.1 440.79L455.24 424.43L455.37 426.54L455.51 418.82L455.64 325.17L455.78 407.36L455.91 432.78L456.05 444.03L456.18 387.44L456.32 499.22L456.45 464.74L456.58 423.49L456.72 470.53L456.85 429.55L456.99 474.65L457.12 442.55L457.26 311.85L457.39 377.49L457.53 423.61L457.66 421.76L457.8 389.12L457.93 275.12L458.06 390.93L458.2 390.68L458.33 306.82L458.47 420.44L458.6 460.57L458.74 498.46L458.87 355.13L459.01 505.56L459.14 444.92L459.28 448.98L459.41 424.03L459.54 336.44L459.68 316.42L459.81 512.1L459.95 450.41L460.08 529.63L460.22 406.12L460.35 427.99L460.49 450.66L460.62 481.39L460.76 454.05L460.89 487.07L461.02 281L461.16 321.42L461.29 602.25L461.43 429.32L461.56 457L461.7 373.6L461.83 502.59L461.97 432.11L462.1 507.8L462.24 354.88L462.37 409.61L462.5 433.49L462.64 384.79L462.77 441.28L462.91 539.47L463.04 364.13L463.18 392.3L463.31 432.81L463.45 278.25L463.58 318.7L463.72 510.93L463.85 490.24L463.98 469.25L464.12 306.29L464.25 486.33L464.39 537.88L464.52 477.1L464.66 464.33L464.79 541.34L464.93 415.85L465.06 522.52L465.2 518.2L465.33 336.92L465.46 481.28L465.6 425.25L465.73 361.08L465.87 344.21L466 449.57L466.14 414.66L466.27 494.3L466.41 539.54L466.54 359.17L466.68 511.58L466.81 418.33L466.94 353.34L467.08 374.79L467.21 471.45L467.35 309.17L467.48 468.1L467.62 426.87L467.75 522.6L467.89 395.85L468.02 404.87L468.16 287.5L468.29 562L468.42 463.51L468.56 480.26L468.69 408.41L468.83 521.02L468.96 497.58L469.1 452.19L469.23 387.39L469.37 433.84L469.5 498.88L469.64 346.55L469.77 468.13L469.9 464.43L470.04 528.68L470.17 490.7L470.31 359L470.44 543.42L470.58 425.22L470.71 352.96L470.85 453.24L470.98 396.74L471.12 512.4L471.25 313.02L471.38 325.95L471.52 397.13L471.65 302.66L471.79 508.18L471.92 333.33L472.06 516.3L472.19 391.53L472.33 316.91L472.46 474.37L472.6 436.05L472.73 418.59L472.86 577.88L473 537.92L473.13 335.46L473.27 312.26L473.4 514.38L473.54 527.18L473.67 386.59L473.81 478.63L473.94 445.13L474.08 344.64L474.21 404.45L474.34 462.36L474.48 366.78L474.61 405.98L474.75 487.71L474.88 409.43L475.02 507.83L475.15 488.47L475.29 383.31L475.42 469.46L475.56 460.01L475.69 454.49L475.82 340.27L475.96 345.16L476.09 370.26L476.23 374.35L476.36 303.96L476.5 420.49L476.63 464.6L476.77 502.57L476.9 442.06L477.04 528.62L477.17 450.19L477.3 371.21L477.44 304.29L477.57 479.46L477.71 418.21L477.84 225.31L477.98 486.35L478.11 516.9L478.25 413.14L478.38 550.42L478.52 408.57L478.65 416.78L478.78 478.95L478.92 506.1L479.05 528.97L479.19 512.68L479.32 526.35L479.46 345.12L479.59 363.73L479.73 452.04L479.86 514.9L480 261L480.13 493.63L480.26 501.54L480.4 446.06L480.53 328.88L480.67 566L480.8 392.75L480.94 470.92L481.07 369.03L481.21 520.71L481.34 498.42L481.48 485.6L481.61 374.81L481.74 430.22L481.88 431.47L482.01 530.75L482.15 208.78L482.28 419.86L482.42 364.34L482.55 295.92L482.69 424.49L482.82 329.6L482.96 371.25L483.09 445.83L483.22 411.6L483.36 416.07L483.49 500.47L483.63 319L483.76 529.05L483.9 321.63L484.03 334.65L484.17 427.22L484.3 488.81L484.44 439.44L484.57 375.4L484.7 350.64L484.84 392.42L484.97 332.41L485.11 469.76L485.24 397.21L485.38 540.37L485.51 348.75L485.65 404.67L485.78 456.77L485.92 214.29L486.05 355.36L486.18 342.6L486.32 415.05L486.45 533.35L486.59 327.99L486.72 381.95L486.86 466.2L486.99 411.87L487.13 441.69L487.26 386.57L487.4 359.66L487.53 551L487.66 504.71L487.8 385.34L487.93 501.39L488.07 393.32L488.2 322.41L488.34 353.37L488.47 501.81L488.61 482.99L488.74 461.05L488.88 423.39L489.01 323.13L489.14 523.24L489.28 375.95L489.41 298.5L489.55 367.56L489.68 375.99L489.82 300.13L489.95 374.02L490.09 340.43L490.22 367.08L490.36 417.04L490.49 396.06L490.62 314.76L490.76 442.61L490.89 444.41L491.03 503.64L491.16 496.65L491.3 453.68L491.43 481.65L491.57 373.44L491.7 534.42L491.84 305.5L491.97 393.79L492.11 441.41L492.24 483.68L492.37 490.81L492.51 665.64L492.64 468.56L492.78 418.15L492.91 260.75L493.05 530.84L493.18 443.05L493.32 499.12L493.45 404.06L493.59 411.09L493.72 361.45L493.85 447.38L493.99 543.86L494.12 530.85L494.26 547.65L494.39 352.2L494.53 488.78L494.66 412.97L494.8 475.67L494.93 410.35L495.07 307.36L495.2 481.44L495.33 449.93L495.47 492.56L495.6 267.88L495.74 506.98L495.87 513.4L496.01 529.18L496.14 530.47L496.28 375.57L496.41 361.95L496.55 505.18L496.68 334.82L496.81 395.7L496.95 511.51L497.08 444.04L497.22 440.03L497.35 481.97L497.49 376.78L497.62 500.63L497.76 383.8L497.89 607.25L498.03 471.79L498.16 405.01L498.29 339.21L498.43 404.71L498.56 380.47L498.7 355.23L498.83 364.62L498.97 302.61L499.1 516.77L499.24 333.08L499.37 254.75L499.51 530.45L499.64 429.55L499.77 493.08L499.91 472.48L500.04 333.9L500.18 492.33L500.31 430.62L500.45 484.23L500.58 574.12L500.72 410.45L500.85 483.26L500.99 484.64L501.12 495.78L501.25 518.16L501.39 508.46L501.52 492.8L501.66 319.92L501.79 473.09L501.93 388.27L502.06 484.4L502.2 457.88L502.33 328.1L502.47 500.18L502.6 304.18L502.73 306.43L502.87 412.27L503 359.52L503.14 350.03L503.27 428.72L503.41 508.51L503.54 321.01L503.68 453.07L503.81 537.88L503.95 409.3L504.08 438.33L504.21 504.71L504.35 542.16L504.48 502.02L504.62 304.22L504.75 354.81L504.89 359.15L505.02 320.72L505.16 466.04L505.29 425.77L505.43 278.25L505.56 510.28L505.69 504.86L505.83 409.8L505.96 448.04L506.1 509.23L506.23 383.3L506.37 442.82L506.5 330.68L506.64 419.17L506.77 446.21L506.91 407.01L507.04 434.45L507.17 479.89L507.31 455.52L507.44 350.06L507.58 359.48L507.71 314.5L507.85 326.91L507.98 454.71L508.12 456.67L508.25 402.97L508.39 460.12L508.52 465.71L508.65 346.98L508.79 579.5L508.92 515.47L509.06 311.52L509.19 332.14L509.33 471.27L509.46 342.56L509.6 486.04L509.73 324.45L509.87 438.65L510 492.24L510.13 452.88L510.27 488.85L510.4 401.1L510.54 402.66L510.67 415.42L510.81 469.68L510.94 375.91L511.08 410.2L511.21 248.88L511.35 396.33L511.48 324.13L511.61 544.12L511.75 454.37L511.88 435.18L512.02 430.89L512.15 469.01L512.29 472.17L512.42 500.94L512.56 320.58L512.69 420.12L512.83 334.54L512.96 441.6L513.09 412.09L513.23 434.31L513.36 376.31L513.5 342.98L513.63 396.74L513.77 480.42L513.9 490.14L514.04 348.42L514.17 444.35L514.31 445.36L514.44 303.43L514.57 326.73L514.71 369.8L514.84 455.28L514.98 331.74L515.11 382.7L515.25 368.6L515.38 434.37L515.52 530.83L515.65 525.9L515.79 381.42L515.92 382.81L516.05 440.68L516.19 515.8L516.32 532.52L516.46 448.73L516.59 533.42L516.73 337.94L516.86 322.78L517 487.5L517.13 339.16L517.27 473L517.4 497.84L517.53 516.51L517.67 473.19L517.8 434.91L517.94 333.85L518.07 362.68L518.21 364.81L518.34 399.13L518.48 358.16L518.61 431.8L518.75 509.3L518.88 460.59L519.01 529.23L519.15 388.45L519.28 313.85L519.42 349.79L519.55 517.47L519.69 402.86L519.82 440.19L519.96 411.3L520.09 435.93L520.23 572.88L520.36 454.87L520.49 340.57L520.63 396.59L520.76 445.54L520.9 428.95L521.03 459.06L521.17 344.15L521.3 443.57L521.44 391.69L521.57 454.64L521.71 535.21L521.84 337.51L521.97 508.9L522.11 356.49L522.24 380.22L522.38 545.77L522.51 502.17L522.65 465.79L522.78 493.87L522.92 259.75L523.05 350.91L523.19 440.64L523.32 383.37L523.45 458.13L523.59 390.73L523.72 487.5L523.86 421.13L523.99 365.4L524.13 414.57L524.26 460.57L524.4 510.6L524.53 403.35L524.67 387.1L524.8 442.36L524.93 489.17L525.07 369L525.2 445.51L525.34 596.38L525.47 387.86L525.61 384.13L525.74 433.71L525.88 407.35L526.01 483.41L526.15 308.41L526.28 441.96L526.41 489.92L526.55 438.71L526.68 403.44L526.82 469.99L526.95 423.52L527.09 527.1L527.22 439.33L527.36 347.65L527.49 352.7L527.63 353.99L527.76 393.79L527.89 320.85L528.03 330.81L528.16 515.93L528.3 327.04L528.43 429.5L528.57 395.03L528.7 584.75L528.84 391.03L528.97 400.35L529.11 490.37L529.24 510.07L529.38 480.22L529.51 428.67L529.64 412.48L529.78 418.28L529.91 546.97L530.05 287.88L530.18 339.84L530.32 409.92L530.45 290.92L530.59 340.4L530.72 517.93L530.86 329.77L530.99 603.75L531.12 380.38L531.26 335.83L531.39 484.57L531.53 472.96L531.66 494.42L531.8 487.85L531.93 427.72L532.07 533.15L532.2 508.17L532.34 365.8L532.47 425.2L532.6 383.62L532.74 446.35L532.87 490.5L533.01 469.57L533.14 415.72L533.28 472.4L533.41 335.91L533.55 424.04L533.68 417.14L533.82 417.46L533.95 353.85L534.08 461.9L534.22 324.65L534.35 376.56L534.49 404.59L534.62 414.88L534.76 371.04L534.89 331.03L535.03 335.18L535.16 384.27L535.3 339.26L535.43 407.86L535.56 316.59L535.7 421.14L535.83 291.25L535.97 311.31L536.1 408.82L536.24 515.76L536.37 436.86L536.51 498.56L536.64 456.61L536.78 373.11L536.91 540.39L537.04 368.67L537.18 455.22L537.31 350.46L537.45 508.58L537.58 521.1L537.72 412.67L537.85 450.58L537.99 456.86L538.12 311.9L538.26 379.61L538.39 483.83L538.52 322.31L538.66 321.63L538.79 470.79L538.93 408.03L539.06 378.76L539.2 435.91L539.33 563.5L539.47 370.52L539.6 472.97L539.74 353.65L539.87 465.48L540 497.96L540.14 364.38L540.27 450.72L540.41 474.48L540.54 387.67L540.68 539.83L540.81 283.5L540.95 464.47L541.08 466.3L541.22 412.12L541.35 324.64L541.48 462.12L541.62 373.56L541.75 363.6L541.89 510.44L542.02 397.77L542.16 502.05L542.29 328.15L542.43 377.02L542.56 417.19L542.7 526.21L542.83 408.08L542.96 488.96L543.1 354.04L543.23 429.63L543.37 493.11L543.5 336.36L543.64 352.61L543.77 473.04L543.91 322.2L544.04 446.03L544.18 447.02L544.31 407.36L544.44 487.64L544.58 459.15L544.71 433.4L544.85 299.39L544.98 301.29L545.12 442.41L545.25 350.28L545.39 422.66L545.52 383.84L545.66 338.85L545.79 391.95L545.92 315.62L546.06 396.41L546.19 517.41L546.33 313.31L546.46 456.44L546.6 446.57L546.73 446.55L546.87 331.89L547 343.73L547.14 345.51L547.27 333.23L547.4 289.49L547.54 558.5L547.67 335.65L547.81 486.83L547.94 451.11L548.08 328.58L548.21 382.87L548.35 525.82L548.48 385.6L548.62 435.45L548.75 493.69L548.88 378.92L549.02 455.75L549.15 540.5L549.29 512.05L549.42 316.75L549.56 537.06L549.69 398.29L549.83 362.82L549.96 360.15L550.1 519.13L550.23 448.15L550.36 405.8L550.5 345.4L550.63 477.78L550.77 515.29L550.9 331.79L551.04 325.71L551.17 384.8L551.31 474.46L551.44 381.44L551.58 408.69L551.71 341.98L551.84 520.6L551.98 408.05L552.11 433.27L552.25 511.96L552.38 398.95L552.52 415.5L552.65 456.29L552.79 382.43L552.92 531.1L553.06 423.61L553.19 248.5L553.32 550.38L553.46 327.41L553.59 517.62L553.73 536.62L553.86 396.8L554 377.01L554.13 408.45L554.27 362.22L554.4 497.98L554.54 344.87L554.67 496.16L554.8 535.26L554.94 505.78L555.07 388.86L555.21 353.21L555.34 367.08L555.48 330.99L555.61 392.68L555.75 318.75L555.88 507.07L556.02 529.46L556.15 305.81L556.28 245.75L556.42 371.92L556.55 397.99L556.69 403.48L556.82 623.85L556.96 298.87L557.09 358.35L557.23 372.36L557.36 384.25L557.5 329.1L557.63 372.44L557.76 350.43L557.9 515.63L558.03 371.98L558.17 419.29L558.3 466.19L558.44 430.5L558.57 338.35L558.71 334.48L558.84 361.5L558.98 543.42L559.11 372.74L559.24 516.54L559.38 494.24L559.51 368.5L559.65 445.8L559.78 575.38L559.92 429.62L560.05 347.51L560.19 352.49L560.32 499.27L560.46 477.59L560.59 509.23L560.72 467.48L560.86 510.9L560.99 479.13L561.13 437.82L561.26 505.49L561.4 531.12L561.53 527.55L561.67 377.12L561.8 413.23L561.94 330.41L562.07 329.31L562.2 449.9L562.34 357.33L562.47 532.45L562.61 346.77L562.74 320.13L562.88 277.25L563.01 515.28L563.15 383.89L563.28 348.32L563.42 490.08L563.55 350.12L563.68 411.79L563.82 463.67L563.95 334.87L564.09 507.75L564.22 392.62L564.36 464.3L564.49 496.32L564.63 376.25L564.76 505.03L564.9 519.95L565.03 472.26L565.16 327.44L565.3 511.03L565.43 363.2L565.57 517.53L565.7 526.29L565.84 404.07L565.97 265.38L566.11 522.15L566.24 320.83L566.38 491.76L566.51 406.68L566.64 383.91L566.78 364.23L566.91 558.5L567.05 498.21L567.18 367.24L567.32 457.68L567.45 506.89L567.59 548.1L567.72 527.55L567.86 368.79L567.99 449.94L568.12 513.31L568.26 466.97L568.39 365.09L568.53 448.99L568.66 472.23L568.8 310.52L568.93 376.39L569.07 414.64L569.2 474.37L569.34 539.38L569.47 515.73L569.61 462.71L569.74 438.82L569.87 386.07L570.01 368.16L570.14 398.28L570.28 398.51L570.41 505.9L570.55 412.39L570.68 239.75L570.82 555.38L570.95 478.48L571.09 443.85L571.22 520.26L571.35 512.01L571.49 427.89L571.62 408.1L571.76 478.79L571.89 373.06L572.03 438.8L572.16 506.64L572.3 414.97L572.43 385.33L572.57 480.52L572.7 321.94L572.83 308.84L572.97 301.38L573.1 494.05L573.24 315.87L573.37 408.04L573.51 441.95L573.64 439.8L573.78 363.6L573.91 414.02L574.05 434.9L574.18 314.67L574.31 484.9L574.45 508.02L574.58 346.05L574.72 354.25L574.85 326.37L574.99 509.74L575.12 327.12L575.26 374.55L575.39 542.25L575.53 520.55L575.66 398.71L575.79 444.12L575.93 541.69L576.06 484.18L576.2 324.36L576.33 461.66L576.47 276.38L576.6 339.76L576.74 332.6L576.87 332.73L577.01 491.03L577.14 424.01L577.27 330.13L577.41 478.79L577.54 487.34L577.68 342.84L577.81 297.41L577.95 514.59L578.08 465.01L578.22 533.06L578.35 506.19L578.49 431.31L578.62 362.29L578.75 557.88L578.89 482.85L579.02 404.65L579.16 503.19L579.29 423L579.43 477.47L579.56 528.84L579.7 343.89L579.83 495.18L579.97 276L580.1 458.84L580.23 545.09L580.37 485.61L580.5 486.32L580.64 338.83L580.77 457.78L580.91 491.11L581.04 587.5L581.18 516.11L581.31 424.78L581.45 438.41L581.58 323.92L581.71 476.33L581.85 328.43L581.98 395.15L582.12 419.12L582.25 447.24L582.39 523.13L582.52 350.79L582.66 307.59L582.79 399.79L582.93 348.86L583.06 456.05L583.19 452.71L583.33 479.43L583.46 333.45L583.6 387.3L583.73 440.15L583.87 448.78L584 367.73L584.14 216.79L584.27 494.91L584.41 500.79L584.54 395.16L584.67 417.74L584.81 302.67L584.94 330.52L585.08 426.76L585.21 369.61L585.35 509.61L585.48 477.4L585.62 546.62L585.75 318.58L585.89 461.52L586.02 356.3L586.15 494.79L586.29 504.21L586.42 436.56L586.56 394.3L586.69 362.63L586.83 474.3L586.96 385.85L587.1 338.99L587.23 272.25L587.37 353.33L587.5 404.66L587.63 461.13L587.77 427.49L587.9 424.38L588.04 401.19L588.17 381.93L588.31 465.31L588.44 486.55L588.58 350.23L588.71 381.24L588.85 475.33L588.98 298.01L589.11 447.6L589.25 482.18L589.38 355.71L589.52 545.42L589.65 490.39L589.79 489.17L589.92 305.2L590.06 297.72L590.19 336.91L590.33 439L590.46 385.98L590.59 499.36L590.73 344.57L590.86 512.59L591 443.79L591.13 332.17L591.27 512.25L591.4 452.07L591.54 403.65L591.67 526.34L591.81 322.05L591.94 544.5L592.07 537.1L592.21 423L592.34 489.72L592.48 478.93L592.61 411.67L592.75 483.71L592.88 334.05L593.02 483.24L593.15 333.03L593.29 422.71L593.42 340.5L593.55 468.28L593.69 464.98L593.82 514.61L593.96 365.76L594.09 335.63L594.23 433.12L594.36 314.24L594.5 395.82L594.63 438.02L594.77 383.1L594.9 421.24L595.03 303.53L595.17 335.27L595.3 495.34L595.44 271.25L595.57 309.49L595.71 390.48L595.84 439.93L595.98 320.69L596.11 454.2L596.25 444.33L596.38 460.94L596.51 519.43L596.65 340L596.78 518.12L596.92 470.79L597.05 486.84L597.19 352.11L597.32 424.98L597.46 559.12L597.59 547.2L597.73 426.71L597.86 534.67L597.99 390.56L598.13 259.5L598.26 420.29L598.4 373.17L598.53 370.36L598.67 364.12L598.8 405.66L598.94 436.36L599.07 333.97L599.21 325.93L599.34 523.82L599.47 328.71L599.61 371.64L599.74 334.28L599.88 376L600.01 520.3L600.15 515.88L600.28 321.29L600.42 395.58L600.55 531.01L600.69 600.38L600.82 451.87L600.95 406.49L601.09 473.66L601.22 542.49L601.36 393.8L601.49 423.1L601.63 441.52L601.76 392.62L601.9 363.64L602.03 433.39L602.17 446.28L602.3 494.53L602.43 519.61L602.57 468.82L602.7 429.95L602.84 443.1L602.97 533.33L603.11 548.5L603.24 351.1L603.38 508.69L603.51 269.75L603.65 393.49L603.78 364.05L603.91 376.2L604.05 512.58L604.18 332.06L604.32 490.63L604.45 513.52L604.59 474.43L604.72 428.66L604.86 353.29L604.99 361.56L605.13 420.76L605.26 335.92L605.39 411.24L605.53 338.12L605.66 530.18L605.8 540.73L605.93 347.65L606.07 529.33L606.2 446.32L606.34 427.69L606.47 253.25L606.61 633.47L606.74 307.92L606.88 415.86L607.01 338.83L607.14 467.8L607.28 416.54L607.41 420.44L607.55 352.17L607.68 317.6L607.82 516.81L607.95 410.67L608.09 435.76L608.22 367.46L608.36 404.12L608.49 358.28L608.62 457.32L608.76 414.21L608.89 480.1L609.03 479.55L609.16 431.66L609.3 431.71L609.43 283.88L609.57 338.29L609.7 431.07L609.84 528.93L609.97 325.92L610.1 487.24L610.24 372.14L610.37 420.26L610.51 395.74L610.64 403.04L610.78 471.38L610.91 414.95L611.05 530.51L611.18 306.47L611.32 412.66L611.45 378.86L611.58 508.56L611.72 528.1L611.85 517.44L611.99 452.73L612.12 491.57L612.26 369.63L612.39 411.73L612.53 375.1L612.66 360.54L612.8 321.1L612.93 378.78L613.06 405.45L613.2 402.55L613.33 310.44L613.47 343.87L613.6 505.58L613.74 476.92L613.87 388.4L614.01 475.76L614.14 453.18L614.28 502.84L614.41 442.67L614.54 379.9L614.68 332.23L614.81 417.85L614.95 519.37L615.08 425.7L615.22 513.73L615.35 331.85L615.49 373.2L615.62 464.41L615.76 427.98L615.89 432.91L616.02 402.38L616.16 356.24L616.29 528.69L616.43 390.49L616.56 441.71L616.7 352.38L616.83 520.56L616.97 610.99L617.1 450.18L617.24 356.19L617.37 410.34L617.5 513.98L617.64 335.09L617.77 355.07L617.91 364.04L618.04 331.42L618.18 325.95L618.31 420.7L618.45 527.32L618.58 529.01L618.72 310.57L618.85 353.63L618.98 409.35L619.12 458.51L619.25 415.81L619.39 416.43L619.52 449.55L619.66 482.73L619.79 468.17L619.93 397.76L620.06 474.19L620.2 523.88L620.33 485.17L620.46 352.78L620.6 349.23L620.73 438.7L620.87 413.96L621 446.64L621.14 511.85L621.27 313.55L621.41 384.57L621.54 292L621.68 239.75L621.81 431.3L621.94 338.89L622.08 441.15L622.21 529.18L622.35 502.42L622.48 617.01L622.62 387.25L622.75 427.37L622.89 331.74L623.02 332.37L623.16 389.13L623.29 416.24L623.42 441.86L623.56 368.23L623.69 336.71L623.83 413.15L623.96 377.48L624.1 448.41L624.23 530.66L624.37 505.51L624.5 348.56L624.64 377.76L624.77 295.68L624.9 413.56L625.04 339.97L625.17 312.23L625.31 271.62L625.44 474.44L625.58 435.61L625.71 406.81L625.85 504.62L625.98 375.26L626.12 330.52L626.25 462.74L626.38 436.57L626.52 445.33L626.65 437.29L626.79 440.53L626.92 483.58L627.06 380.43L627.19 416.87L627.33 502.06L627.46 592.88L627.6 369.45L627.73 438.99L627.86 530.82L628 426.9L628.13 496.57L628.27 334.8L628.4 421.49L628.54 291.04L628.67 351.35L628.81 342.17L628.94 397.57L629.08 399.59L629.21 358.86L629.34 263.5L629.48 483.79L629.61 373.61L629.75 338.58L629.88 426.92L630.02 442.11L630.15 482.13L630.29 532.95L630.42 320.53L630.56 413.12L630.69 391.26L630.82 446.56L630.96 376.02L631.09 498.84L631.23 328.71L631.36 361.56L631.5 382.1L631.63 374.74L631.77 420.67L631.9 553.5L632.04 362.22L632.17 386.91L632.3 316.78L632.44 337.93L632.57 376.31L632.71 388.51L632.84 336.99L632.98 371.77L633.11 290.38L633.25 496.81L633.38 449.95L633.52 508.24L633.65 408.58L633.78 394.9L633.92 434.77L634.05 416.77L634.19 358.99L634.32 573.5L634.46 502.61L634.59 315.42L634.73 482.24L634.86 519.15L635 510.09L635.13 419.8L635.26 332.81L635.4 321.83L635.53 399.28L635.67 517.02L635.8 478.67L635.94 499.27L636.07 434.87L636.21 428.35L636.34 408.37L636.48 359.48L636.61 432.23L636.74 376.44L636.88 501.74L637.01 533.26L637.15 476.96L637.28 322.44L637.42 330.11L637.55 460.46L637.69 319.56L637.82 448.39L637.96 300.48L638.09 374.43L638.22 460.03L638.36 345.79L638.49 217.89L638.63 501.61L638.76 533.07L638.9 395.01L639.03 423.57L639.17 425.76L639.3 456.24L639.44 305.11L639.57 457.5L639.7 484.96L639.84 316.99L639.97 306.14L640.11 387.66L640.24 252.25L640.38 473.63L640.51 362.56L640.65 577.88L640.78 360.41L640.92 527.89L641.05 356.56L641.18 476.13L641.32 312.23L641.45 425.58L641.59 330.13L641.72 478.01L641.86 530.53L641.99 512.01L642.13 474.27L642.26 506.93L642.4 319.82L642.53 311.24L642.66 393.69L642.8 507.48L642.93 429.54L643.07 481.53L643.2 304.11L643.34 389.76L643.47 600.75L643.61 455.31L643.74 491.17L643.88 489.33L644.01 512.39L644.14 384.79L644.28 409.86L644.41 492.13L644.55 454.3L644.68 537.39L644.82 503.04L644.95 500.59L645.09 439.62L645.22 482.74L645.36 457.97L645.49 370.02L645.62 421.24L645.76 477.97L645.89 420.37L646.03 414.9L646.16 426.39L646.3 435.84L646.43 449.88L646.57 331.7L646.7 461.3L646.84 430.36L646.97 418.71L647.11 408.85L647.24 434.35L647.37 331.99L647.51 419.49L647.64 402.76L647.78 423.41L647.91 505.64L648.05 494.72L648.18 508.42L648.32 401.05L648.45 484.05L648.59 509.1L648.72 296L648.85 370.61L648.99 552.18L649.12 420.63L649.26 415.74L649.39 532.88L649.53 327.98L649.66 412.31L649.8 474.01L649.93 486.98L650.07 509.87L650.2 427.64L650.33 341.1L650.47 509.59L650.6 428.05L650.74 383.29L650.87 488.86L651.01 499.1L651.14 423.07L651.28 358.36L651.41 411.28L651.55 517.73L651.68 381.32L651.81 290.38L651.95 377.88L652.08 324.09L652.22 331.16L652.35 381.35L652.49 390.25L652.62 511.3L652.76 431L652.89 398.52L653.03 455.43L653.16 409.76L653.29 494.3L653.43 532.18L653.56 393.38L653.7 454.38L653.83 382.03L653.97 440.15L654.1 315.95L654.24 378.86L654.37 411.62L654.51 439.19L654.64 407.15L654.77 505.48L654.91 356.82L655.04 256.62L655.18 369.71L655.31 406.83L655.45 326.31L655.58 420.26L655.72 330.58L655.85 500.85L655.99 362.88L656.12 439.23L656.25 400.91L656.39 412.13L656.52 335.72L656.66 502.68L656.79 389.11L656.93 535.79L657.06 319.42L657.2 265.38L657.33 505.68L657.47 322.75L657.6 292.66L657.73 523.07L657.87 408.27L658 467.78L658.14 554.57L658.27 449.59L658.41 358L658.54 564.75L658.68 335.44L658.81 451.85L658.95 418.07L659.08 453.95L659.21 387.23L659.35 356.71L659.48 385.52L659.62 400.89L659.75 475.34L659.89 487.9L660.02 303.49L660.16 512.12L660.29 500.3L660.43 427.63L660.56 278.5L660.69 478.99L660.83 507.2L660.96 385.6L661.1 353.42L661.23 512.63L661.37 477.74L661.5 379.07L661.64 293.25L661.77 500.74L661.91 541.04L662.04 333.58L662.17 369.7L662.31 449.39L662.44 451.78L662.58 304.25L662.71 436.88L662.85 324.56L662.98 422.68L663.12 453.11L663.25 460.09L663.39 445.44L663.52 305.33L663.65 461.36L663.79 501.67L663.92 459.94L664.06 452.34L664.19 527.49L664.33 418.29L664.46 428.63L664.6 427.62L664.73 462.63L664.87 447.1L665 460.46L665.13 388.12L665.27 493.14L665.4 445.23L665.54 431.9L665.67 313.3L665.81 384.5L665.94 186.01L666.08 610.38L666.21 381.5L666.35 326.73L666.48 372.31L666.61 543.92L666.75 310.89L666.88 422.46L667.02 456.67L667.15 338.91L667.29 371.38L667.42 427.36L667.56 534.71L667.69 378.86L667.83 386.8L667.96 348.09L668.09 345.11L668.23 522.95L668.36 329.73L668.5 467.63L668.63 383.12L668.77 380.53L668.9 492.2L669.04 472.86L669.17 400.13L669.31 500.52L669.44 403.63L669.57 378.64L669.71 413.07L669.84 337.04L669.98 386.04L670.11 476.84L670.25 386.99L670.38 162.65L670.52 362.91L670.65 389.81L670.79 504.78L670.92 418.5L671.05 413.63L671.19 446.89L671.32 338.18L671.46 317.1L671.59 452.38L671.73 450.82L671.86 418.28L672 430.51L672.13 458.65L672.27 402.96L672.4 392.27L672.53 364.57L672.67 485.94L672.8 452.83L672.94 503.47L673.07 286L673.21 537.21L673.34 447.39L673.48 346.18L673.61 413.97L673.75 375.84L673.88 432.13L674.01 515.97L674.15 421.69L674.28 381.47L674.42 506.8L674.55 387.41L674.69 317.06L674.82 327.81L674.96 554.12L675.09 503.99L675.23 543.17L675.36 327.72L675.49 362.8L675.63 354.29L675.76 498.24L675.9 515.49L676.03 411.66L676.17 409.45L676.3 496.81L676.44 405.68L676.57 359.66L676.71 397.81L676.84 507.79L676.97 484.74L677.11 442.41L677.24 636.26L677.38 442.52L677.51 457.94L677.65 482.03L677.78 353.15L677.92 423.5L678.05 407.41L678.19 503.77L678.32 475.53L678.45 403.7L678.59 505.78L678.72 521.23L678.86 448.85L678.99 319.78L679.13 401.21L679.26 186.82L679.4 430.75L679.53 447.1L679.67 529.46L679.8 471.48L679.93 305.28L680.07 388.7L680.2 351.55L680.34 354.12L680.47 419.57L680.61 437.46L680.74 407.78L680.88 357.21L681.01 277.25L681.15 373.64L681.28 404.58L681.41 489.22L681.55 442.66L681.68 501.98L681.82 571L681.95 415.21L682.09 438.66L682.22 364.95L682.36 449.98L682.49 513.52L682.63 420.34L682.76 314.31L682.89 433.4L683.03 362.52L683.16 409.54L683.3 452.85L683.43 479.52L683.57 412.18L683.7 467.9L683.84 463.58L683.97 383.84L684.11 381.22L684.24 347.99L684.38 405.77L684.51 531.9L684.64 369.98L684.78 447L684.91 444.91L685.05 246.38L685.18 471.23L685.32 485.28L685.45 422.04L685.59 533.25L685.72 414.06L685.86 407.31L685.99 512.59L686.12 475.92L686.26 497.01L686.39 337.43L686.53 374.98L686.66 551.38L686.8 546.05L686.93 458.24L687.07 341.14L687.2 476.46L687.34 406.02L687.47 496.08L687.6 325.51L687.74 337.09L687.87 273.5L688.01 525.49L688.14 511.45L688.28 327.21L688.41 436.5L688.55 442.32L688.68 388.13L688.82 520.97L688.95 347.91L689.08 417.02L689.22 374.8L689.35 480.13L689.49 371.69L689.62 483.26L689.76 334.65L689.89 324.2L690.03 337.17L690.16 371.39L690.3 537.25L690.43 515.32L690.56 342.23L690.7 443.8L690.83 410L690.97 444.69L691.1 529.39L691.24 468.04L691.37 358.38L691.51 306.38L691.64 475.76L691.78 499.76L691.91 304.25L692.04 498.49L692.18 428.92L692.31 414.06L692.45 498.54L692.58 332.87L692.72 380.94L692.85 532.09L692.99 297.61L693.12 444.48L693.26 302.11L693.39 453.55L693.52 540.91L693.66 372.72L693.79 336.3L693.93 483.92L694.06 330L694.2 355.02L694.33 440.47L694.47 466.39L694.6 445.71L694.74 494.81L694.87 443.85L695 316.44L695.14 402.32L695.27 421.35L695.41 469.27L695.54 349.2L695.68 462.69L695.81 366.97L695.95 578.5L696.08 473.9L696.22 394.44L696.35 305.21L696.48 364.35L696.62 516.04L696.75 424.24L696.89 334.92L697.02 373.35L697.16 383.68L697.29 497.02L697.43 477.07L697.56 409.98L697.7 336.68L697.83 494.62L697.96 512.69L698.1 323.31L698.23 501.32L698.37 327.37L698.5 396.44L698.64 339L698.77 475.21L698.91 355.62L699.04 347.62L699.18 500.58L699.31 482.38L699.44 359.72L699.58 258.12L699.71 307.95L699.85 373.68L699.98 390.22L700.12 400.13L700.25 331.58L700.39 416.97L700.52 424.42L700.66 508.27L700.79 332.47L700.92 509.73L701.06 371.78L701.19 531.13L701.33 326.23L701.46 588.25L701.6 341.44L701.73 541.67L701.87 458.99L702 321.19L702.14 492.47L702.27 412.55L702.4 462.52L702.54 297.5L702.67 390.48L702.81 379.11L702.94 511.85L703.08 366.15L703.21 491.58L703.35 505.66L703.48 418.07L703.62 481.12L703.75 400.84L703.88 539.53L704.02 351.06L704.15 332.6L704.29 457.77L704.42 550.45L704.56 367.19L704.69 462.8L704.83 383.57L704.96 323.59L705.1 452.79L705.23 509.25L705.36 318.5L705.5 399.96L705.63 563.5L705.77 390L705.9 397.48L706.04 528.98L706.17 334.21L706.31 241.62L706.44 341L706.58 516.59L706.71 456.02L706.84 468.8L706.98 456.69L707.11 512.86L707.25 378.89L707.38 397.7L707.52 385.23L707.65 465.04L707.79 314.21L707.92 401.5L708.06 473.65L708.19 290.38L708.32 423.92L708.46 334L708.59 446.24L708.73 441.61L708.86 479.41L709 357.74L709.13 459.7L709.27 473.97L709.4 486.68L709.54 367.72L709.67 467.52L709.8 546.99L709.94 361.67L710.07 482.94L710.21 386L710.34 384.46L710.48 319.62L710.61 329.3L710.75 471.37L710.88 433.94L711.02 523.15L711.15 365.07L711.28 378.25L711.42 307.8L711.55 447.92L711.69 285.38L711.82 299.3L711.96 410.17L712.09 406.5L712.23 413.62L712.36 359.65L712.5 369.87L712.63 458.75L712.76 326.79L712.9 467.15L713.03 461.48L713.17 306.07L713.3 336.66L713.44 449.68L713.57 355.83L713.71 403.89L713.84 369.36L713.98 426.08L714.11 520.41L714.24 491.12L714.38 520.97L714.51 398.97L714.65 343.64L714.78 330.44L714.92 485.77L715.05 397.17L715.19 367.95L715.32 465.52L715.46 223.91L715.59 434.59L715.72 399.91L715.86 338.89L715.99 458.53L716.13 414.88L716.26 603.5L716.4 421L716.53 320.32L716.67 341.3L716.8 320.05L716.94 355.79L717.07 413.85L717.2 473.66L717.34 433.38L717.47 362.57L717.61 490.62L717.74 335.91L717.88 504.51L718.01 458.24L718.15 506.17L718.28 305.93L718.42 528.23L718.55 324.05L718.68 542.25L718.82 398.68L718.95 322.44L719.09 316.18L719.22 464.92L719.36 311.88L719.49 383.47L719.63 418.4L719.76 378.21L719.9 531.53L720.03 490.7L720.16 428.61L720.3 362.85L720.43 452.78L720.57 430.36L720.7 333.76L720.84 306.73L720.97 348.43L721.11 315.61L721.24 455.74L721.38 446.77L721.51 389.54L721.64 446.28L721.78 465.15L721.91 355.29L722.05 437.13L722.18 503.44L722.32 374.06L722.45 338.78L722.59 411.3L722.72 317.9L722.86 458.81L722.99 463.7L723.12 481.89L723.26 431.84L723.39 396.98L723.53 573.25L723.66 330.9L723.8 505.96L723.93 440.12L724.07 342.14L724.2 360.97L724.34 392.87L724.47 321.77L724.61 385.52L724.74 506.78L724.87 349.05L725.01 438.25L725.14 401.41L725.28 514.25L725.41 462.56L725.55 523.19L725.68 333.04L725.82 442.7L725.95 273.88L726.09 481.41L726.22 464.6L726.35 314.38L726.49 503.78L726.62 439.91L726.76 381.49L726.89 513.92L727.03 458.95L727.16 337.19L727.3 493.68L727.43 339.16L727.57 481.1L727.7 429.49L727.83 312.1L727.97 461.88L728.1 438.23L728.24 494.9L728.37 400.38L728.51 322.99L728.64 532.84L728.78 336.84L728.91 525.23L729.05 497.13L729.18 553.83L729.31 410.94L729.45 413.32L729.58 396.28L729.72 480.63L729.85 327.97L729.99 575.38L730.12 416.26L730.26 490.95L730.39 453.69L730.53 417.13L730.66 357.13L730.79 493.03L730.93 288.5L731.06 334.26L731.2 400.89L731.33 384.72L731.47 450.71L731.6 389.79L731.74 413.59L731.87 304.05L732.01 352.35L732.14 441.02L732.27 519.51L732.41 353.14L732.54 349.52L732.68 500.53L732.81 423.77L732.95 513.95L733.08 336.32L733.22 509.3L733.35 460.79L733.49 398.51L733.62 318.34L733.75 420.36L733.89 427.9L734.02 576.62L734.16 498.3L734.29 328.03L734.43 427.41L734.56 529.73L734.7 491.09L734.83 365.62L734.97 484.78L735.1 338.34L735.23 385.59L735.37 391.89L735.5 358.85L735.64 297.25L735.77 496.86L735.91 448.54L736.04 448.16L736.18 518.04L736.31 462.17L736.45 328.05L736.58 433.29L736.71 493.09L736.85 525.18L736.98 369.6L737.12 330.76L737.25 307.47L737.39 413.77L737.52 329.28L737.66 507.41L737.79 403.31L737.93 480.75L738.06 402.78L738.19 349.94L738.33 327.81L738.46 504.86L738.6 315.67L738.73 462.15L738.87 506.98L739 434.33L739.14 533.81L739.27 418.28L739.41 609.12L739.54 437.05L739.67 369.59L739.81 447.52L739.94 418.33L740.08 532.46L740.21 414.79L740.35 496.62L740.48 459.9L740.62 427.28L740.75 401.21L740.89 519.96L741.02 540.06L741.15 446.36L741.29 375.25L741.42 385.7L741.56 338.31L741.69 313.59L741.83 270.12L741.96 420.52L742.1 507.32L742.23 502.26L742.37 461.49L742.5 394.2L742.63 398.48L742.77 418.31L742.9 432.69L743.04 360.95L743.17 399.62L743.31 391.42L743.44 390.45L743.58 468.74L743.71 507.29L743.85 373.71L743.98 380.53L744.11 438.85L744.25 456.78L744.38 525.44L744.52 488.24L744.65 438.63L744.79 394.38L744.92 514.72L745.06 407.96L745.19 453.25L745.33 335.87L745.46 360.79L745.59 279.5L745.73 408.44L745.86 334.41L746 432.98L746.13 457.43L746.27 409.35L746.4 337.54L746.54 388.43L746.67 356.91L746.81 436.25L746.94 320.27L747.07 427.52L747.21 311.49L747.34 447.79L747.48 496.41L747.61 393.29L747.75 504.68L747.88 352.23L748.02 466.83L748.15 547.88L748.29 309.8L748.42 422.23L748.55 391.88L748.69 482.66L748.82 530.55L748.96 475.25L749.09 438.75L749.23 329.95L749.36 537.46L749.5 328.93L749.63 326.08L749.77 363.98L749.9 368.69L750.03 419.93L750.17 516.01L750.3 369.71L750.44 383.52L750.57 351.69L750.71 368.77L750.84 352.04L750.98 379.71L751.11 386.73L751.25 526.55L751.38 514.01L751.51 453.07L751.65 478.69L751.78 355.14L751.92 447.78L752.05 442.15L752.19 300L752.32 348.16L752.46 454.06L752.59 362.19L752.73 344.41L752.86 509.41L752.99 386.75L753.13 581.25L753.26 398.87L753.4 296.86L753.53 318.97L753.67 494.32L753.8 407.3L753.94 495.23L754.07 365.61L754.21 497.57L754.34 336.49L754.47 383.15L754.61 333.67L754.74 431.99L754.88 533.43L755.01 252.88L755.15 434.51L755.28 308.9L755.42 379.3L755.55 356.97L755.69 366.01L755.82 387.54L755.95 307.44L756.09 535.16L756.22 339.59L756.36 440.86L756.49 430.98L756.63 417.9L756.76 386.96L756.9 527.59L757.03 352.92L757.17 414.67L757.3 484.33L757.43 250.12L757.57 457.45L757.7 376.86L757.84 455.11L757.97 357.51L758.11 331.07L758.24 455.1L758.38 414.2L758.51 531.2L758.65 390.73L758.78 340.47L758.91 469.57L759.05 324.78L759.18 433.39L759.32 539.7L759.45 529.21L759.59 463.11L759.72 598.88L759.86 425.92L759.99 424.85L760.13 352.42L760.26 461.94L760.39 521.49L760.53 520.27L760.66 485.97L760.8 349.66L760.93 434.85L761.07 303.87L761.2 374.43L761.34 178.59L761.47 418.5L761.61 340.02L761.74 319.34L761.88 499.48L762.01 349.04L762.14 395.57L762.28 325.75L762.41 308.05L762.55 450.15L762.68 533.01L762.82 382.44L762.95 332.7L763.09 241L763.22 397.62L763.36 425.51L763.49 507.83L763.62 337.7L763.76 470.95L763.89 414.15L764.03 410.49L764.16 315.51L764.3 501.66L764.43 467.71L764.57 594.12L764.7 374.07L764.84 460.67L764.97 380.05L765.1 509.8L765.24 451.62L765.37 329.63L765.51 434.67L765.64 361.39L765.78 370.31L765.91 451.05L766.05 539.83L766.18 332.81L766.32 212.09L766.45 332.94L766.58 341.64L766.72 545.68L766.85 536.83L766.99 498.15L767.12 329.46L767.26 366.86L767.39 421.83L767.53 406.68L767.66 349.01L767.8 446.38L767.93 382.42L768.06 405.88L768.2 508.85L768.33 453.95L768.47 310.01L768.6 454.96L768.74 431.81L768.87 474.29L769.01 463.09L769.14 324.55L769.28 443.26L769.41 506.76L769.54 382.72L769.68 471.16L769.81 288.5L769.95 552.88L770.08 345.86L770.22 353.79L770.35 387.48L770.49 340.76L770.62 376.62L770.76 490.47L770.89 351.43L771.02 441.68L771.16 517.83L771.29 532.4L771.43 512.07L771.56 339.14L771.7 525.83L771.83 514.54L771.97 502.59L772.1 400.8L772.24 449.81L772.37 340.11L772.5 483.86L772.64 523.09L772.77 464.88L772.91 415.51L773.04 501.55L773.18 393.6L773.31 479L773.45 472.58L773.58 415.38L773.72 310.97L773.85 478.95L773.98 549.75L774.12 511.72L774.25 383.41L774.39 372.83L774.52 433.65L774.66 416.26L774.79 316.31L774.93 340.88L775.06 531.19L775.2 421.4L775.33 272.62L775.46 354.77L775.6 441.27L775.73 480.01L775.87 462.94L776 528.3L776.14 423.48L776.27 475.86L776.41 378.55L776.54 508.73L776.68 461.37L776.81 506L776.94 511.24L777.08 357.58L777.21 464.33L777.35 381.13L777.48 514.71L777.62 413.07L777.75 358.42L777.89 465.9L778.02 468.21L778.16 368.88L778.29 405.82L778.42 438.4L778.56 345.71L778.69 404.96L778.83 373.28L778.96 352.38L779.1 428.67L779.23 449.5L779.37 276L779.5 460.85L779.64 387.25L779.77 328.22L779.9 344.59L780.04 457.7L780.17 525.51L780.31 427.95L780.44 434.35L780.58 328.46L780.71 457.91L780.85 442.03L780.98 355.68L781.12 466.61L781.25 437.53L781.38 527.7L781.52 304.95L781.65 365.42L781.79 398.45L781.92 280.38L782.06 371.96L782.19 417.71L782.33 402.84L782.46 470.42L782.6 424.12L782.73 439.87L782.86 394.18L783 308.83L783.13 389.98L783.27 454.81L783.4 506.39L783.54 544.06L783.67 495.57L783.81 371.96L783.94 386.41L784.08 477.83L784.21 398.71L784.34 492.27L784.48 534L784.61 231.25L784.75 499.83L784.88 309.34L785.02 553.5L785.15 320.32L785.29 315.1L785.42 439.81L785.56 427.67L785.69 479.25L785.82 425.49L785.96 363.08L786.09 422.44L786.23 335.22L786.36 323.95L786.5 391.94L786.63 393.45L786.77 428.99L786.9 284.12L787.04 515.28L787.17 386.34L787.3 404.65L787.44 500.24L787.57 323.73L787.71 506.74L787.84 500.65L787.98 398.01L788.11 424.58L788.25 495.83L788.38 540.71L788.52 506.47L788.65 435.65L788.78 394.34L788.92 329.06L789.05 349.87L789.19 324.24L789.32 579.12L789.46 466.42L789.59 328.41L789.73 468.26L789.86 479.79L790 302.96L790.13 351.59L790.26 403.61L790.4 354.89L790.53 343.32L790.67 530.89L790.8 432.3L790.94 519.56L791.07 412.55L791.21 485.11L791.34 313.54L791.48 376.3L791.61 497.51L791.74 425.45L791.88 521.6L792.01 420.06L792.15 373.71L792.28 399.7L792.42 500.77L792.55 266L792.69 377.26L792.82 395.83L792.96 325.89L793.09 526.26L793.22 375.93L793.36 483.45L793.49 406.03L793.63 386.77L793.76 361.03L793.9 476.72L794.03 406.99L794.17 562.25L794.3 534.09L794.44 373.1L794.57 428.92L794.7 512.32L794.84 499.95L794.97 422.23L795.11 301.46L795.24 332.74L795.38 350.92L795.51 319.93L795.65 432.92L795.78 380.33L795.92 387.96L796.05 385.94L796.18 445.38L796.32 343.81L796.45 306.37L796.59 432.63L796.72 507.69L796.86 399.62L796.99 474.64L797.13 323.69L797.26 527.64L797.4 505.55L797.53 559.12L797.66 455.88L797.8 376.91L797.93 394.72L798.07 356.79L798.2 370.01L798.34 424.86L798.47 327.96L798.61 448.96L798.74 272.25L798.88 399.85L799.01 498.3L799.14 468.84L799.28 420.04L799.41 512.31L799.55 466.11L799.68 332.13L799.82 495.94L799.95 473.64L800.09 458.18L800.22 507.84L800.36 513.39L800.49 409.36L800.62 553.5L800.76 356.64L800.89 355.68L801.03 540.11L801.16 426.3L801.3 274.12L801.43 353.36L801.57 444.98L801.7 420.6L801.84 432.2L801.97 477.54L802.11 541.1L802.24 371.01L802.37 532.54L802.51 520.01L802.64 451.36L802.78 488.78L802.91 400.13L803.05 334.82L803.18 401.31L803.32 406.05L803.45 421.97L803.59 345.51L803.72 541.35L803.85 390.48L803.99 504.97L804.12 262.62L804.26 423.66L804.39 585.38L804.53 370.68L804.66 329.47L804.8 546.03L804.93 430.73L805.07 519.77L805.2 344.64L805.33 308.24L805.47 414.78L805.6 535.78L805.74 516.56L805.87 358.91L806.01 337.88L806.14 491.11L806.28 448.68L806.41 400.14L806.55 369.78L806.68 456.16L806.81 297.6L806.95 397.16L807.08 434.01L807.22 349.29L807.35 472.18L807.49 497.69L807.62 552.07L807.76 269.75L807.89 458.35L808.03 378.25L808.16 538.5L808.29 406.79L808.43 454L808.56 304.87L808.7 457.27L808.83 438.78L808.97 376.61L809.1 339.75L809.24 336.04L809.37 479.48L809.51 415.46L809.64 388L809.77 337.54L809.91 414.36L810.04 392.18L810.18 446.11L810.31 479.43L810.45 466.64L810.58 307.44L810.72 497.34L810.85 334.87L810.99 399.57L811.12 498.01L811.25 391.75L811.39 419.79L811.52 449.84L811.66 375.66L811.79 359.79L811.93 296L812.06 596.62L812.2 494.89L812.33 462.78L812.47 355.8L812.6 295.52L812.73 395.8L812.87 367.52L813 419.66L813.14 405.29L813.27 476.98L813.41 450.47L813.54 349.26L813.68 291.04L813.81 443.35L813.95 548.66L814.08 318.45L814.21 368.25L814.35 360.97L814.48 406.75L814.62 267L814.75 416.49L814.89 376.29L815.02 490.78L815.16 476.46L815.29 486.34L815.43 426.13L815.56 391.49L815.69 492.07L815.83 487.89L815.96 512.42L816.1 464.68L816.23 401.55L816.37 523.92L816.5 371.1L816.64 365.39L816.77 450.19L816.91 402.77L817.04 415.9L817.17 397.63L817.31 506.17L817.44 409.49L817.58 481.23L817.71 452.86L817.85 465.13L817.98 352.93L818.12 500.87L818.25 516.68L818.39 367.91L818.52 314.19L818.65 475.17L818.79 574.75L818.92 514.68L819.06 340.93L819.19 461.11L819.33 298.5L819.46 319.09L819.6 324.72L819.73 387.15L819.87 372.73L820 320.65L820.13 441.01L820.27 438.61L820.4 357.46L820.54 384.15L820.67 445.71L820.81 419.21L820.94 469.49L821.08 357.67L821.21 338.73L821.35 422.73L821.48 449.43L821.61 541.67L821.75 444.58L821.88 291.07L822.02 461.83L822.15 545.5L822.29 310.59L822.42 373.07L822.56 520.33L822.69 352L822.83 509.79L822.96 529.4L823.09 437.06L823.23 467.23L823.36 514.34L823.5 297.5L823.63 508.69L823.77 417.57L823.9 425.18L824.04 354.66L824.17 464.81L824.31 528.85L824.44 528.09L824.57 445.62L824.71 301.73L824.84 345.12L824.98 549.75L825.11 338.05L825.25 518.18L825.38 333.8L825.52 458.19L825.65 352.43L825.79 365.84L825.92 448.48L826.05 392.91L826.19 512.41L826.32 429.78L826.46 329.62L826.59 463.1L826.73 358.41L826.86 414.9L827 509.14L827.13 331.02L827.27 462.66L827.4 496.64L827.53 390.06L827.67 520.98L827.8 301.37L827.94 328.99L828.07 475.14L828.21 473.95L828.34 528.02L828.48 533.1L828.61 382.27L828.75 639.78L828.88 390.65L829.01 398.51L829.15 474.41L829.28 389.82L829.42 537.54L829.55 422.17L829.69 305.44L829.82 314.82L829.96 294.5L830.09 453.63L830.23 311.39L830.36 366.77L830.49 539.08L830.63 462.11L830.76 401.38L830.9 321.27L831.03 498.74L831.17 363.85L831.3 450.51L831.44 428.5L831.57 383.34L831.71 435.26L831.84 552.25L831.97 331.09L832.11 360.41L832.24 513.37L832.38 402.89L832.51 529.29L832.65 492.36L832.78 526.53L832.92 528.47L833.05 485.99L833.19 507.18L833.32 374.28L833.45 349.55L833.59 444.79L833.72 515.62L833.86 348.85L833.99 376.02L834.13 322.96L834.26 355.91L834.4 362.46L834.53 335.88L834.67 442.65L834.8 524.46L834.93 242.62L835.07 370.66L835.2 493.31L835.34 487.39L835.47 532.75L835.61 518.39L835.74 345.25L835.88 381L836.01 518.25L836.15 513.19L836.28 474.51L836.41 372.38L836.55 518.68L836.68 438.31L836.82 445.3L836.95 524.2L837.09 384.09L837.22 340.43L837.36 517.92L837.49 562.88L837.63 349.39L837.76 458.68L837.89 472.58L838.03 375.04L838.16 404.74L838.3 327.66L838.43 349.71L838.57 475.72L838.7 433.67L838.84 428.25L838.97 530.29L839.11 506.72L839.24 335.97L839.38 544.62L839.51 334.6L839.64 396.42L839.78 435.43L839.91 373.15L840.05 378.84L840.18 321.66L840.32 459.43L840.45 443.61L840.59 445.21L840.72 442.87L840.86 337.48L840.99 503.66L841.12 453.2L841.26 487.4L841.39 421.26L841.53 402.83L841.66 445.07L841.8 304.14L841.93 332.47L842.07 382.31L842.2 486.94L842.34 436.14L842.47 558.5L842.6 417.74L842.74 333.69L842.87 540.01L843.01 315L843.14 456.59L843.28 303.21L843.41 384.36L843.55 319.9L843.68 370.16L843.82 328.9L843.95 416.92L844.08 497.79L844.22 360.28L844.35 356.72L844.49 428.18L844.62 411.43L844.76 440.08L844.89 330.2L845.03 523.22L845.16 442.78L845.3 270.38L845.43 594.75L845.56 500.45L845.7 307.69L845.83 322.71L845.97 350.35L846.1 386.7L846.24 399.78L846.37 499.74L846.51 469.01L846.64 354.31L846.78 408.62L846.91 336.5L847.04 452.13L847.18 379.57L847.31 281.62L847.45 395.97L847.58 386.31L847.72 415.18L847.85 496.74L847.99 303.23L848.12 482.25L848.26 356.07L848.39 447.62L848.52 519.23L848.66 308.2L848.79 515.22L848.93 498.31L849.06 665.93L849.2 453.8L849.33 352.25L849.47 430.18L849.6 462.53L849.74 333.42L849.87 441.09L850 435.38L850.14 511.82L850.27 489.38L850.41 227.88L850.54 369.09L850.68 420.57L850.81 484.88L850.95 357.77L851.08 379.8L851.22 451.89L851.35 443.68L851.48 497.51L851.62 406.45L851.75 481.6L851.89 493.97L852.02 317.61L852.16 352.33L852.29 320.85L852.43 415.42L852.56 568.5L852.7 348.45L852.83 319.85L852.96 368.37L853.1 440.6L853.23 396.04L853.37 424.44L853.5 423.21L853.64 530.37L853.77 417.85L853.91 361.49L854.04 472.23L854.18 324.32L854.31 289.75L854.44 457.18L854.58 306.35L854.71 506.25L854.85 376.66L854.98 504.65L855.12 303.49L855.25 434.06L855.39 453.6L855.52 408.31L855.66 468.18L855.79 327.77L855.92 347.65L856.06 318.74L856.19 365.54L856.33 491.49L856.46 433.32L856.6 339.34L856.73 455.97L856.87 330.98L857 440.89L857.14 472.41L857.27 323.01L857.4 350.21L857.54 421.26L857.67 439.79L857.81 379.63L857.94 342.17L858.08 348.84L858.21 446.33L858.35 595.75L858.48 341.4L858.62 348.63L858.75 315.14L858.88 498.95L859.02 489.77L859.15 439.8L859.29 402.3L859.42 336.61L859.56 362.12L859.69 430.33L859.83 416.58L859.96 498.59L860.1 474.83L860.23 390.81L860.36 297.21L860.5 387.01L860.63 424.04L860.77 384.36L860.9 454.18L861.04 429.06L861.17 328.92L861.31 375.69L861.44 442.89L861.58 558.25L861.71 378.83L861.84 409.07L861.98 391.13L862.11 395.52L862.25 449.8L862.38 460.75L862.52 416.4L862.65 502.74L862.79 521.2L862.92 313.6L863.06 440.65L863.19 420.9L863.32 431.07L863.46 416.56L863.59 416.62L863.73 412.73L863.86 492.43L864 335.98L864.13 482.09L864.27 329.87L864.4 237.25L864.54 509.11L864.67 332.41L864.8 432.27L864.94 480.16L865.07 384.34L865.21 508.16L865.34 411.66L865.48 430.23L865.61 460.13L865.75 478.22L865.88 369.27L866.02 339.31L866.15 496.83L866.28 381.67L866.42 472.93L866.55 453.41L866.69 477.95L866.82 316.93L866.96 426.72L867.09 477.99L867.23 487.2L867.36 510.93L867.5 310.42L867.63 426.38L867.76 550.08L867.9 436.93L868.03 358.56L868.17 341.35L868.3 452.43L868.44 440.42L868.57 297.1L868.71 442.83L868.84 322.2L868.98 419.16L869.11 487.58L869.24 372.23L869.38 297.25L869.51 318.09L869.65 334.32L869.78 412.95L869.92 362.84L870.05 366.98L870.19 443.95L870.32 338.16L870.46 439.52L870.59 362.26L870.72 502.51L870.86 409.35L870.99 380.59L871.13 490.92L871.26 456.65L871.4 467.34L871.53 351.78L871.67 484.36L871.8 378.24L871.94 491.79L872.07 385.62L872.2 542.75L872.34 406.7L872.47 329.18L872.61 444.35L872.74 325.06L872.88 586L873.01 379.48L873.15 441.96L873.28 464.92L873.42 441.42L873.55 276.38L873.68 369.98L873.82 379.34L873.95 445.39L874.09 411.8L874.22 382.23L874.36 543.2L874.49 488.04L874.63 490.83L874.76 436.29L874.9 442.82L875.03 441.17L875.16 497.14L875.3 355.86L875.43 392.01L875.57 544.11L875.7 416.18L875.84 512.1L875.97 415.21L876.11 459.06L876.24 453.38L876.38 409.6L876.51 435.59L876.64 422.59L876.78 297.34L876.91 396.51L877.05 340.76L877.18 323.32L877.32 502.96L877.45 561.62L877.59 354.09L877.72 333.46L877.86 496.19L877.99 342.23L878.12 379.21L878.26 466.27L878.39 404.02L878.53 365.13L878.66 438.96L878.8 399.25L878.93 336.17L879.07 323.01L879.2 363.7L879.34 317.61L879.47 301.94L879.61 518.52L879.74 461.42L879.87 500.72L880.01 408.01L880.14 303.57L880.28 357.07L880.41 506.99L880.55 443.78L880.68 329.07L880.82 465.55L880.95 425.73L881.09 388.98L881.22 554.67L881.35 345.46L881.49 596L881.62 364.79L881.76 503L881.89 487.21L882.03 471.54L882.16 393.92L882.3 410.42L882.43 405.16L882.57 476.16L882.7 312.07L882.83 482.73L882.97 476.73L883.1 393.04L883.24 445.9L883.37 307.53L883.51 532.86L883.64 466.55L883.78 441.55L883.91 409.28L884.05 239.12L884.18 502.96L884.31 453.62L884.45 339.5L884.58 457.89L884.72 435.77L884.85 459.48L884.99 526.52L885.12 301L885.26 510.73L885.39 476.78L885.53 365.69L885.66 528.44L885.79 361.48L885.93 315.37L886.06 495.62L886.2 397.77L886.33 510.83L886.47 278.5L886.6 408.81L886.74 397.16L886.87 308.35L887.01 373.76L887.14 309.6L887.27 358.83L887.41 516.33L887.54 564.12L887.68 372.09L887.81 531.57L887.95 310.38L888.08 410.7L888.22 383.21L888.35 498.17L888.49 410.28L888.62 389.46L888.75 446.81L888.89 409.55L889.02 431.46L889.16 308.62L889.29 511.09L889.43 360.2L889.56 501.98L889.7 493.43L889.83 367.17L889.97 499.23L890.1 390.95L890.23 501.95L890.37 496.85L890.5 367.06L890.64 378.72L890.77 505.24L890.91 356.25L891.04 501.79L891.18 364.08L891.31 354.98L891.45 540.9L891.58 512.56L891.71 514.42L891.85 535.32L891.98 484.15L892.12 502.14L892.25 531.76L892.39 408.32L892.52 367.33L892.66 523.73L892.79 272.88L892.93 416.66L893.06 438.65L893.19 481.62L893.33 343.25L893.46 340.24L893.6 355.26L893.73 436.63L893.87 454.39L894 345.86L894.14 454.42L894.27 428.63L894.41 319.85L894.54 490.89L894.67 234.12L894.81 413.47L894.94 482.13L895.08 438.94L895.21 539.93L895.35 467.5L895.48 483.34L895.62 506.4L895.75 300.32L895.89 317.49L896.02 390.2L896.15 331.5L896.29 314.84L896.42 330.51L896.56 336.32L896.69 499.79L896.83 378.77L896.96 467.02L897.1 515.94L897.23 513.53L897.37 378.96L897.5 328.46L897.63 527.61L897.77 506.99L897.9 302.87L898.04 453.14L898.17 460.72L898.31 425.02L898.44 571L898.58 453.47L898.71 269.75L898.85 386.98L898.98 517.15L899.11 405.61L899.25 322.27L899.38 390.58L899.52 347.12L899.65 373.39L899.79 351.96L899.92 405.35L900.06 494.65L900.19 439.25L900.33 425.41L900.46 316.2L900.59 267.88L900.73 380.17L900.86 487.65L901 485.54L901.13 435.87L901.27 308.15L901.4 388.05L901.54 423.77L901.67 488.77L901.81 338.92L901.94 392.19L902.07 423.35L902.21 409.23L902.34 459.75L902.48 433.39L902.61 497.94L902.75 317.23L902.88 413.91L903.02 338.83L903.15 430.04L903.29 494.58L903.42 443.24L903.55 499.95L903.69 371.85L903.82 417.35L903.96 366.69L904.09 342.98L904.23 292.3L904.36 534.75L904.5 554.69L904.63 403.44L904.77 498.18L904.9 409.15L905.03 309.6L905.17 548.94L905.3 401.24L905.44 425.88L905.57 267.62L905.71 359.35L905.84 415.57L905.98 465.3L906.11 484.81L906.25 393.16L906.38 454.78L906.51 511.39L906.65 501.36L906.78 452.28L906.92 453.91L907.05 425.92L907.19 508.24L907.32 369.1L907.46 463.01L907.59 527.51L907.73 493.4L907.86 453.93L907.99 340.97L908.13 374.32L908.26 449.66L908.4 416.9L908.53 398.99L908.67 300.22L908.8 599.75L908.94 375.92L909.07 352.17L909.21 502.67L909.34 401.37L909.47 403.73L909.61 461.73L909.74 366.71L909.88 330.25L910.01 324.17L910.15 436.27L910.28 401.31L910.42 400.31L910.55 511.6L910.69 398.38L910.82 338.47L910.95 404.95L911.09 358.62L911.22 402.88L911.36 349.67L911.49 314.73L911.63 438.98L911.76 400.61L911.9 423.76L912.03 455.67L912.17 420.5L912.3 513.32L912.43 350.5L912.57 513.48L912.7 511.08L912.84 315.15L912.97 503.33L913.11 300.04L913.24 484.23L913.38 423.56L913.51 490.99L913.65 509.72L913.78 554.75L913.91 392.94L914.05 432.63L914.18 498.1L914.32 380L914.45 461.18L914.59 329.26L914.72 318.34L914.86 528.66L914.99 276.62L915.13 447.93L915.26 516.42L915.39 512.47L915.53 410.58L915.66 437.76L915.8 545.51L915.93 467.99L916.07 371.17L916.2 517.94L916.34 500.92L916.47 305.08L916.61 312.59L916.74 543.63L916.88 526.9L917.01 384.14L917.14 517.03L917.28 441.85L917.41 460.04L917.55 367.39L917.68 527.74L917.82 508.6L917.95 519.18L918.09 609.75L918.22 432.84L918.36 500.69L918.49 373.54L918.62 353.88L918.76 441.22L918.89 448.98L919.03 240.38L919.16 319.26L919.3 404.74L919.43 369.87L919.57 423.12L919.7 453.62L919.84 500.47L919.97 395.22L920.1 446.2L920.24 441.02L920.37 336.11L920.51 374L920.64 339.65L920.78 540.82L920.91 367.55L921.05 544.75L921.18 492.73L921.32 496.68L921.45 319.14L921.58 342.87L921.72 484.37L921.85 513.69L921.99 417.44L922.12 460.8L922.26 393.46L922.39 533.74L922.53 340.69L922.66 442.13L922.8 417.72L922.93 406.55L923.06 349.69L923.2 505.36L923.33 450.06L923.47 468.56L923.6 322.56L923.74 396.4L923.87 340.64L924.01 442.56L924.14 321.05L924.28 415.93L924.41 201.95L924.54 388.19L924.68 508.85L924.81 477.03L924.95 538.22L925.08 550.73L925.22 394.25L925.35 562L925.49 404.92L925.62 423.75L925.76 440.4L925.89 511.92L926.02 332.7L926.16 383.05L926.29 473.21L926.43 355.63L926.56 367.28L926.7 497.32L926.83 350.67L926.97 406.23L927.1 454.56L927.24 456.9L927.37 367.29L927.5 299.04L927.64 314.19L927.77 514.38L927.91 478.65L928.04 337.55L928.18 262.25L928.31 484.67L928.45 313.82L928.58 370.05L928.72 597L928.85 376.7L928.98 398.62L929.12 456.91L929.25 455.14L929.39 362.31L929.52 483.9L929.66 318.15L929.79 463.82L929.93 497.95L930.06 258.25L930.2 431.89L930.33 367.88L930.46 456.71L930.6 310.79L930.73 368.58L930.87 526.64L931 327.07L931.14 539.28L931.27 579.12L931.41 390.52L931.54 379.75L931.68 408.93L931.81 518.4L931.94 338.56L932.08 533.95L932.21 461.22L932.35 490.89L932.48 453.29L932.62 340.68L932.75 476.78L932.89 367L933.02 355.12L933.16 389.11L933.29 515.49L933.42 453.81L933.56 472.94L933.69 390.52L933.83 424.53L933.96 352.7L934.1 350.5L934.23 434.11L934.37 528.89L934.5 418.19L934.64 467.93L934.77 366.8L934.9 426.52L935.04 352L935.17 458.39L935.31 596L935.44 429.04L935.58 506.42L935.71 373.74L935.85 536.81L935.98 351.29L936.12 518.59L936.25 410.16L936.38 500.4L936.52 459.11L936.65 285.38L936.79 428.29L936.92 453.63L937.06 493.95L937.19 417.92L937.33 503.67L937.46 336.24L937.6 343.53L937.73 318.43L937.86 519.94L938 501.86L938.13 328.41L938.27 323.59L938.4 418.67L938.54 665.64L938.67 466.99L938.81 471.27L938.94 440.79L939.08 502.56L939.21 467.77L939.34 392.33L939.48 365.98L939.61 293.13L939.75 552.31L939.88 414.78L940.02 340.27L940.15 524.59L940.29 176.39L940.42 515.59L940.56 312.63L940.69 369.28L940.82 435.46L940.96 430.64L941.09 383.31L941.23 446.96L941.36 424.69L941.5 529.69L941.63 438.34L941.77 503.65L941.9 396.45L942.04 447.61L942.17 447.07L942.3 426.68L942.44 536L942.57 396.95L942.71 517.64L942.84 430.86L942.98 375.24L943.11 461.54L943.25 323.01L943.38 347.52L943.52 504.91L943.65 389.41L943.78 429.36L943.92 419.14L944.05 423.85L944.19 338.02L944.32 480.42L944.46 532.92L944.59 367.93L944.73 396.12L944.86 371.61L945 420.96L945.13 388.84L945.26 465.68L945.4 375.35L945.53 613.71L945.67 424.05L945.8 344.13L945.94 344.28L946.07 490.72L946.21 304.7L946.34 328.29L946.48 395.75L946.61 428.17L946.74 521.76L946.88 385.4L947.01 347.4L947.15 535.01L947.28 367.51L947.42 373.76L947.55 252.88L947.69 513.07L947.82 369.07L947.96 536.01L948.09 301.97L948.22 406.32L948.36 515.3L948.49 310.85L948.63 322.69L948.76 478.28L948.9 294.73L949.03 505.7L949.17 389.99L949.3 320.93L949.44 441.71L949.57 331.86L949.7 424.63L949.84 420.14L949.97 510.02L950.11 388.33L950.24 511.97L950.38 503.58L950.51 459.71L950.65 591.62L950.78 530.15L950.92 525.53L951.05 487.83L951.18 447.68L951.32 418.37L951.45 346.13L951.59 343.75L951.72 446.44L951.86 453.88L951.99 415.49L952.13 343.4L952.26 354.81L952.4 466L952.53 345.7L952.66 379.93L952.8 334.83L952.93 394.58L953.07 387.52L953.2 466.48L953.34 505.52L953.47 284.12L953.61 439.08L953.74 547.25L953.88 533.48L954.01 447.33L954.14 365.89L954.28 464.03L954.41 416.69L954.55 458.65L954.68 437.72L954.82 429.87L954.95 519.17L955.09 550.27L955.22 380.98L955.36 492.86L955.49 373.97L955.62 282.88L955.76 361.62L955.89 449.73L956.03 536.54L956.16 426.62L956.3 448.77L956.43 358.49L956.57 459.97L956.7 454.7L956.84 340.26L956.97 321.93L957.11 349.14L957.24 329.7L957.37 377.1L957.51 348.14L957.64 339.17L957.78 381.72L957.91 412.94L958.05 405.68L958.18 340.96L958.32 417.45L958.45 440.39L958.59 452.06L958.72 421.75L958.85 396.33L958.99 513.29L959.12 403.68L959.26 391.66L959.39 542.7L959.53 395L959.66 405.82L959.8 322.76L959.93 382.4L960.07 385.02L960.2 469.44L960.33 515.99L960.47 491.22L960.6 258.25L960.74 456.32L960.87 411.81L961.01 419.8L961.14 359.67L961.28 449.35L961.41 409.35L961.55 486.13L961.68 461.2L961.81 397.79L961.95 407.38L962.08 298.25L962.22 403.8L962.35 385.19L962.49 504.37L962.62 305.52L962.76 488.96L962.89 345.26L963.03 408.87L963.16 503.03L963.29 330.33L963.43 417.29L963.56 402.33L963.7 377.29L963.83 420.67L963.97 453.39L964.1 376L964.24 455.77L964.37 587.25L964.51 479.86L964.64 535.52L964.77 480.36L964.91 464.05L965.04 417.34L965.18 320.81L965.31 500.44L965.45 406.92L965.58 411.94L965.72 508.18L965.85 465.15L965.99 518.62L966.12 506.87L966.25 404.59L966.39 411.58L966.52 429.12L966.66 249.12L966.79 328.47L966.93 433.47L967.06 497.28L967.2 290.26L967.33 362.43L967.47 452.68L967.6 320.3L967.73 404.35L967.87 359.79L968 397.19L968.14 507.14L968.27 333.65L968.41 404L968.54 506.01L968.68 488.58L968.81 334.59L968.95 452.53L969.08 414.45L969.21 358.75L969.35 557.88L969.48 537.78L969.62 360.32L969.75 335.6L969.89 339.86L970.02 434.95L970.16 385.33L970.29 347.53L970.43 519.6L970.56 445.33L970.69 333.36L970.83 319.97L970.96 248.25L971.1 544.79L971.23 340.73L971.37 498.38L971.5 323.72L971.64 388.8L971.77 380.83L971.91 404.54L972.04 309.96L972.17 368.11L972.31 569.12L972.44 374.2L972.58 351.9L972.71 485.16L972.85 458.48L972.98 453.79L973.12 278.5L973.25 386.75L973.39 330.89L973.52 356.2L973.65 320.17L973.79 330.63L973.92 323.36L974.06 311.47L974.19 453.21L974.33 355.17L974.46 389.18L974.6 430.55L974.73 460.37L974.87 464.98L975 443.25L975.13 519.71L975.27 370.91L975.4 420.7L975.54 408.99L975.67 387.68L975.81 352.3L975.94 472.9L976.08 428.43L976.21 542.85L976.35 329.92L976.48 399.71L976.61 371.94L976.75 346.1L976.88 375.45L977.02 302.68L977.15 460.63L977.29 406.33L977.42 349.84L977.56 568.5L977.69 418.83L977.83 361.66L977.96 485.43L978.09 259.12L978.23 459.07L978.36 523.74L978.5 522.04L978.63 349.24L978.77 467.81L978.9 420.38L979.04 478.88L979.17 405.4L979.31 439.8L979.44 455.44L979.57 517.66L979.71 530.1L979.84 485.84L979.98 390.82L980.11 473.49L980.25 328.02L980.38 422.91L980.52 372.96L980.65 274.12L980.79 524.35L980.92 417.04L981.05 398.46L981.19 444.67L981.32 520.32L981.46 386.94L981.59 323.14L981.73 451.96L981.86 527.26L982 460.75L982.13 453.16L982.27 318.21L982.4 472.18L982.53 484.53L982.67 449.56L982.8 429.96L982.94 448.55L983.07 518.83L983.21 408.01L983.34 383.32L983.48 598.5L983.61 516.42L983.75 426.82L983.88 549.34L984.01 335.55L984.15 505.07L984.28 441.42L984.42 457.37L984.55 469.64L984.69 507.32L984.82 550.89L984.96 478.06L985.09 392.66L985.23 391.73L985.36 309.45L985.49 425.21L985.63 365.36L985.76 414.03L985.9 318.76L986.03 369.94L986.17 387.09L986.3 439.25L986.44 390.23L986.57 320.15L986.71 497.61L986.84 427.62L986.97 454.06L987.11 443.28L987.24 455.36L987.38 348.76L987.51 493.18L987.65 436.52L987.78 461.87L987.92 544.63L988.05 456.58L988.19 421.73L988.32 500.11L988.45 444.57L988.59 416.12L988.72 410.62L988.86 428.29L988.99 364.04L989.13 375.8L989.26 516.85L989.4 471.75L989.53 475.89L989.67 431.92L989.8 470.93L989.93 494.01L990.07 358.63L990.2 411.63L990.34 446.53L990.47 124.02L990.61 435.51L990.74 305.83L990.88 371.81L991.01 322.52L991.15 513.69L991.28 385.71L991.41 326.4L991.55 513.7L991.68 412.84L991.82 547.37L991.95 361.57L992.09 470.38L992.22 531.93L992.36 472.16L992.49 326.53L992.63 317.54L992.76 349.36L992.89 506.19L993.03 320.25L993.16 513.42L993.3 422.49L993.43 530.46L993.57 310.31L993.7 374.46L993.84 336.36L993.97 406.98L994.11 584.75L994.24 399.22L994.38 439.76L994.51 329.99L994.64 334.77L994.78 451.04L994.91 416.21L995.05 387.59L995.18 294.43L995.32 375.42L995.45 411.06L995.59 262.25L995.72 533.77L995.86 469.47L995.99 408.28L996.12 437.89L996.26 407.83L996.39 346.45L996.53 374.81L996.66 389.44L996.8 354.52L996.93 397.53L997.07 417.4L997.2 371.52L997.34 547.37L997.47 313.74L997.6 520.22L997.74 338.86L997.87 413.23L998.01 322.61L998.14 411.11L998.28 499.3L998.41 324.69L998.55 397.33L998.68 403.36L998.82 286L998.95 583.5L999.08 339.79L999.22 393.01L999.35 536.15L999.49 451.05L999.62 404.32L999.76 399.61L999.89 378.72L1000.03 422.34L1000.16 316.84L1000.3 424.06L1000.43 416.4L1000.56 399.43L1000.7 532.69L1000.83 331.28L1000.97 374.76L1001.1 439.63L1001.24 510.67L1001.37 394.14L1001.51 304.07L1001.64 472.41L1001.78 505.85L1001.91 375.17L1002.04 538.69L1002.18 416.39L1002.31 454.32L1002.45 476.79L1002.58 438.93L1002.72 464.05L1002.85 383.08L1002.99 433.75L1003.12 468.35L1003.26 455.4L1003.39 355.62L1003.52 331L1003.66 334.21L1003.79 349.55L1003.93 535.31L1004.06 502.13L1004.2 442.18L1004.33 394.5L1004.47 539.78L1004.6 302.44L1004.74 385.51L1004.87 470.18L1005 265.12L1005.14 444.99L1005.27 482.83L1005.41 366.88L1005.54 454.77L1005.68 526.95L1005.81 471.36L1005.95 423.67L1006.08 506.6L1006.22 312.29L1006.35 507.14L1006.48 545.48L1006.62 334.56L1006.75 498.33L1006.89 401.1L1007.02 317.1L1007.16 430.46L1007.29 513.22L1007.43 402.66L1007.56 512.76L1007.7 531.56L1007.83 362.01L1007.96 411.87L1008.1 423.53L1008.23 448.4L1008.37 441.91L1008.5 325.77L1008.64 357.93L1008.77 501.32L1008.91 520.39L1009.04 519.38L1009.18 351.75L1009.31 566L1009.44 315.68L1009.58 379.75L1009.71 324.45L1009.85 414.54L1009.98 329.4L1010.12 380.7L1010.25 452.91L1010.39 475.93L1010.52 315.8L1010.66 369.61L1010.79 395.97L1010.92 464L1011.06 266.25L1011.19 530.03L1011.33 523.5L1011.46 346.83L1011.6 535.02L1011.73 300.64L1011.87 437.11L1012 389.08L1012.14 405.03L1012.27 373.41L1012.4 437.45L1012.54 445.53L1012.67 423.4L1012.81 324.54L1012.94 319.33L1013.08 310.61L1013.21 378.33L1013.35 430.16L1013.48 542.58L1013.62 352.87L1013.75 336.9L1013.88 448.68L1014.02 338.88L1014.15 309.63L1014.29 403.07L1014.42 323.99L1014.56 383.53L1014.69 545.92L1014.83 454.99L1014.96 265.38L1015.1 363.2L1015.23 490.77L1015.36 451.88L1015.5 498.67L1015.63 589.12L1015.77 405.29L1015.9 328.9L1016.04 339.43L1016.17 396.59L1016.31 389.57L1016.44 401.69L1016.58 401.34L1016.71 293.61L1016.84 370.01L1016.98 427.73L1017.11 255.38L1017.25 319.42L1017.38 506.48L1017.52 379.87L1017.65 335.56L1017.79 452.44L1017.92 506.01L1018.06 444.6L1018.19 512.83L1018.32 352.01L1018.46 489.57L1018.59 388.79L1018.73 605.38L1018.86 485.41L1019 268.5L1019.13 506.35L1019.27 375.95L1019.4 297.04L1019.54 431.37L1019.67 331.83L1019.8 497.46L1019.94 383.42L1020.07 408.2L1020.21 525.51L1020.34 313.07L1020.48 316.7L1020.61 540.99L1020.75 527.3L1020.88 499.47L1021.02 329.23L1021.15 450.93L1021.28 426.99L1021.42 346.86L1021.55 400.87L1021.69 391L1021.82 441.11L1021.96 319.8L1022.09 482.95L1022.23 462.31L1022.36 442.68L1022.5 254.75L1022.63 352.52L1022.76 370.46L1022.9 386.55L1023.03 391.53L1023.17 522.19L1023.3 487.81L1023.44 586L1023.57 490.87L1023.71 379.36L1023.84 446.72L1023.98 329.57L1024.11 420.8L1024.24 511.52L1024.38 507.37L1024.51 495.08L1024.65 400.51L1024.78 412.5L1024.92 329.61L1025.05 397.01L1025.19 400.59L1025.32 382.75L1025.46 424.32L1025.59 385.73L1025.72 340.82L1025.86 340.83L1025.99 462.54L1026.13 449.8L1026.26 603.25L1026.4 386.91L1026.53 355.39L1026.67 456.37L1026.8 371.7L1026.94 269.5L1027.07 508.73L1027.2 390.04L1027.34 304.55L1027.47 436.71L1027.61 308.46L1027.74 309.97L1027.88 509.57L1028.01 396.97L1028.15 498.18L1028.28 437.38L1028.42 507.64L1028.55 406.26L1028.68 521.1L1028.82 414.12L1028.95 323.62L1029.09 394L1029.22 437.81L1029.36 455.54L1029.49 495.79L1029.63 330.61L1029.76 441.44L1029.9 394.04L1030.03 410.97L1030.16 402.17L1030.3 418.82L1030.43 485.63L1030.57 466.12L1030.7 373.67L1030.84 424.06L1030.97 512.23L1031.11 478.89L1031.24 477.81L1031.38 419.46L1031.51 398.16L1031.64 406.24L1031.78 474.52L1031.91 413.09L1032.05 525.34L1032.18 381.3L1032.32 419.95L1032.45 543.14L1032.59 499.94L1032.72 515.51L1032.86 357.67L1032.99 515.89L1033.12 390.21L1033.26 460.35L1033.39 517.76L1033.53 226.7L1033.66 373.63L1033.8 380.65L1033.93 345.24L1034.07 323.41L1034.2 391.42L1034.34 390.65L1034.47 427.81L1034.61 406.92L1034.74 448.76L1034.87 497.93L1035.01 417.72L1035.14 448.42L1035.28 393.79L1035.41 376.58L1035.55 403.44L1035.68 502.27L1035.82 434.93L1035.95 459.73L1036.09 509.15L1036.22 421.94L1036.35 455.13L1036.49 468.47L1036.62 355.44L1036.76 508.58L1036.89 280.38L1037.03 592.88L1037.16 379.28L1037.3 412.12L1037.43 396.5L1037.57 504.16L1037.7 489.65L1037.83 496.93L1037.97 402.95L1038.1 350.57L1038.24 327.5L1038.37 464.85L1038.51 411.32L1038.64 543.58L1038.78 340.87L1038.91 497.81L1039.05 233.5L1039.18 539.73L1039.31 352.92L1039.45 370.77L1039.58 493.06L1039.72 356L1039.85 533.69L1039.99 404.14L1040.12 449.01L1040.26 358.12L1040.39 565.12L1040.53 297.1L1040.66 539.39L1040.79 525.1L1040.93 433.01L1041.06 490.45L1041.2 308.37L1041.33 543.59L1041.47 487.58L1041.6 399.16L1041.74 369.62L1041.87 333.53L1042.01 389.8L1042.14 324.49L1042.27 464.6L1042.41 405.37L1042.54 343.27L1042.68 450.4L1042.81 448.38L1042.95 464.08L1043.08 480.56L1043.22 515.05L1043.35 472.56L1043.49 264.75L1043.62 387.39L1043.75 543.84L1043.89 542.73L1044.02 318.13L1044.16 328.3L1044.29 441.7L1044.43 551L1044.56 321.21L1044.7 406.07L1044.83 371.58L1044.97 488.4L1045.1 330.87L1045.23 495.78L1045.37 413.09L1045.5 552.73L1045.64 482.73L1045.77 377.26L1045.91 464.13L1046.04 463.83L1046.18 351.12L1046.31 429.82L1046.45 320.58L1046.58 386.15L1046.71 371.4L1046.85 238.5L1046.98 541.61L1047.12 526.45L1047.25 574.12L1047.39 512.23L1047.52 481.46L1047.66 368.84L1047.79 453.73L1047.93 379.94L1048.06 500.51L1048.19 396.39L1048.33 330.43L1048.46 393.85L1048.6 462.03L1048.73 364.12L1048.87 418.24L1049 502.79L1049.14 311.54L1049.27 481.12L1049.41 401.4L1049.54 481.3L1049.67 300.4L1049.81 427.66L1049.94 528.6L1050.08 414.95L1050.21 393.36L1050.35 374.22L1050.48 331.79L1050.62 502.33L1050.75 378.74L1050.89 223.91L1051.02 448.44L1051.15 504.66L1051.29 505.84L1051.42 355.32L1051.56 350.81L1051.69 498.34L1051.83 529.18L1051.96 321.16L1052.1 453.85L1052.23 409.19L1052.37 496.98L1052.5 550L1052.63 412.44L1052.77 441.12L1052.9 308.85L1053.04 326.26L1053.17 440.94L1053.31 334.01L1053.44 332.86L1053.58 471.51L1053.71 277.25L1053.85 298.35L1053.98 457.11L1054.11 426.16L1054.25 450.36L1054.38 435.97L1054.52 478.89L1054.65 355.58L1054.79 320.22L1054.92 457.85L1055.06 531.77L1055.19 419.22L1055.33 538.39L1055.46 482.13L1055.59 597.25L1055.73 537.98L1055.86 389.56L1056 512.36L1056.13 352.73L1056.27 433.43L1056.4 487.16L1056.54 462.02L1056.67 355.92L1056.81 531.78L1056.94 242.25L1057.07 345.89L1057.21 428.17L1057.34 477.94L1057.48 386.25L1057.61 476.17L1057.75 538.57L1057.88 350.14L1058.02 482.9L1058.15 508.67L1058.29 528.89L1058.42 401.05L1058.55 224.5L1058.69 366.94L1058.82 448.2L1058.96 330.8L1059.09 459.05L1059.23 483.42L1059.36 330.73L1059.5 514.4L1059.63 358.18L1059.77 374.54L1059.9 523.83L1060.03 510.69L1060.17 393.01L1060.3 380.3L1060.44 485.5L1060.57 416.61L1060.71 385.9L1060.84 577.25L1060.98 341.68L1061.11 531.32L1061.25 269.5L1061.38 447.38L1061.51 382.51L1061.65 329.19L1061.78 379.33L1061.92 492.15L1062.05 391.23L1062.19 337.39L1062.32 488.66L1062.46 528.94L1062.59 377.29L1062.73 390.31L1062.86 337.44L1062.99 415.57L1063.13 482.36L1063.26 463.44L1063.4 510.02L1063.53 505.17L1063.67 474.7L1063.8 287.88L1063.94 328.63L1064.07 522.05L1064.21 427.82L1064.34 477.12L1064.47 305.68L1064.61 399.5L1064.74 457.37L1064.88 349.1L1065.01 417.22L1065.15 466.63L1065.28 302.68L1065.42 358.46L1065.55 482.54L1065.69 325.9L1065.82 352.51L1065.95 411.06L1066.09 512.98L1066.22 358.42L1066.36 416.4L1066.49 361.44L1066.63 423.68L1066.76 485.72L1066.9 508.18L1067.03 359.15L1067.17 317.4L1067.3 449.01L1067.43 381.39L1067.57 311.72L1067.7 497.95L1067.84 453.69L1067.97 514.83L1068.11 324.27L1068.24 398.76L1068.38 464.64L1068.51 547.72L1068.65 438.93L1068.78 550.38L1068.91 449.42L1069.05 461.11L1069.18 364.15L1069.32 521.62L1069.45 417.67L1069.59 367.97L1069.72 493.29L1069.86 497.36L1069.99 399.79L1070.13 431.36L1070.26 443.76L1070.39 403.43L1070.53 402.03L1070.66 502.95L1070.8 482.85L1070.93 269.12L1071.07 327.47L1071.2 313.25L1071.34 498.23L1071.47 329.04L1071.61 353.12L1071.74 424.8L1071.88 377.64L1072.01 346.58L1072.14 508.99L1072.28 510.33L1072.41 367.28L1072.55 434.56L1072.68 440.65L1072.82 325.8L1072.95 347.46L1073.09 507.85L1073.22 447.49L1073.36 401.08L1073.49 532.02L1073.62 343.27L1073.76 428.48L1073.89 406.92L1074.03 391.19L1074.16 398.03L1074.3 418.3L1074.43 454.02L1074.57 365.97L1074.7 467.08L1074.84 469.17L1074.97 530.23L1075.1 329.61L1075.24 396.85L1075.37 378.77L1075.51 406.43L1075.64 433.73L1075.78 492.64L1075.91 238.12L1076.05 382.27L1076.18 410.19L1076.32 327.97L1076.45 602.25L1076.58 465.51L1076.72 507.76L1076.85 311.49L1076.99 520.55L1077.12 351.39L1077.26 307.8L1077.39 433.99L1077.53 355.59L1077.66 485.94L1077.8 456.27L1077.93 369.75L1078.06 405.65L1078.2 420.39L1078.33 490.85L1078.47 337.46L1078.6 388.97L1078.74 468.55L1078.87 467.58L1079.01 534.9L1079.14 437.93L1079.28 439.84L1079.41 485.46L1079.54 382.99L1079.68 257.88L1079.81 348.3L1079.95 381.23L1080.08 442.17L1080.22 553.86L1080.35 467.56L1080.49 322.27L1080.62 443.11L1080.76 364.06L1080.89 464.5L1081.02 370.74L1081.16 382.39L1081.29 392.01L1081.43 473.35L1081.56 454.52L1081.7 394.72L1081.83 474.6L1081.97 389.62L1082.1 439.36L1082.24 424.1L1082.37 433.97L1082.5 548.5L1082.64 496.63L1082.77 384.45L1082.91 465.1L1083.04 371.99L1083.18 328.55L1083.31 407.88L1083.45 539.43L1083.58 487.04L1083.72 339.1L1083.85 444.19L1083.98 493.82L1084.12 428.91L1084.25 375.17L1084.39 397.26L1084.52 362.24L1084.66 495.36L1084.79 445.53L1084.93 619.22L1085.06 422.62L1085.2 192.03L1085.33 442.01L1085.46 526.64L1085.6 310.34L1085.73 300.17L1085.87 449L1086 347.21L1086.14 464.49L1086.27 336.17L1086.41 438.65L1086.54 365.1L1086.68 500.18L1086.81 473.61L1086.94 378.32L1087.08 370.67L1087.21 422.64L1087.35 407.66L1087.48 504.14L1087.62 522.83L1087.75 422.79L1087.89 503L1088.02 432.89L1088.16 255.75L1088.29 426.33L1088.42 335.7L1088.56 337.19L1088.69 396.68L1088.83 419.95L1088.96 409.45L1089.1 408.67L1089.23 368.2L1089.37 419.67L1089.5 374.6L1089.64 524.37L1089.77 348.29L1089.9 409.47L1090.04 403.47L1090.17 530.72L1090.31 312.36L1090.44 449.87L1090.58 330.77L1090.71 439.79L1090.85 365.15L1090.98 385.21L1091.12 319.04L1091.25 363.72L1091.38 408.67L1091.52 347.21L1091.65 512.32L1091.79 403.67L1091.92 358.56L1092.06 507.2L1092.19 475.35L1092.33 377.32L1092.46 425.72L1092.6 320.08L1092.73 440.73L1092.86 397.03L1093 463.29L1093.13 422.84L1093.27 417.77L1093.4 525.43L1093.54 360.59L1093.67 429.01L1093.81 395.89L1093.94 361.71L1094.08 467.57L1094.21 344.85L1094.34 318.72L1094.48 383.87L1094.61 313.42L1094.75 476.63L1094.88 338.21L1095.02 395.41L1095.15 504.78L1095.29 426.9L1095.42 467.85L1095.56 469.87L1095.69 411.92L1095.82 329.61L1095.96 448.56L1096.09 408.45L1096.23 533.96L1096.36 410.07L1096.5 324.14L1096.63 346.29L1096.77 376.7L1096.9 467.5L1097.04 504.06L1097.17 428.25L1097.3 525.99L1097.44 574.12L1097.57 336.58L1097.71 500.69L1097.84 270.38L1097.98 531.57L1098.11 380.73L1098.25 515.79L1098.38 403.91L1098.52 507.91L1098.65 416.04L1098.78 433.91L1098.92 460.7L1099.05 373.31L1099.19 302.32L1099.32 473.38L1099.46 339.98L1099.59 412.07L1099.73 265.38L1099.86 457.25L1100 313.55L1100.13 481.51L1100.26 347.14L1100.4 448.2L1100.53 440.55L1100.67 436.6L1100.8 388.33L1100.94 475.68L1101.07 315.23L1101.21 459.72L1101.34 376.28L1101.48 326.43L1101.61 404.04L1101.74 400.81L1101.88 374.14L1102.01 536.25L1102.15 493.48L1102.28 389.23L1102.42 370.27L1102.55 609.75L1102.69 449.14L1102.82 430.96L1102.96 433.56L1103.09 356.9L1103.22 410.19L1103.36 404.8L1103.49 248.88L1103.63 508.83L1103.76 390.71L1103.9 541.93L1104.03 395.47L1104.17 479.98L1104.3 493.74L1104.44 361.2L1104.57 481.5L1104.7 497.5L1104.84 481.44L1104.97 589.75L1105.11 336.6L1105.24 357.98L1105.38 422.01L1105.51 442.22L1105.65 336.27L1105.78 454.01L1105.92 531.94L1106.05 313.85L1106.18 511.48L1106.32 425.97L1106.45 528.6L1106.59 511.85L1106.72 465.77L1106.86 342.67L1106.99 344.03L1107.13 475.12L1107.26 375.1L1107.4 454.68L1107.53 410.63L1107.66 406.79L1107.8 364.48L1107.93 476.91L1108.07 432.98L1108.2 401.17L1108.34 412.81L1108.47 493.6L1108.61 289.88L1108.74 463.06L1108.88 352.21L1109.01 402.61L1109.14 320.68L1109.28 389.44L1109.41 399.32L1109.55 440.64L1109.68 520.75L1109.82 409.53L1109.95 443.87L1110.09 375.28L1110.22 520.79L1110.36 463.46L1110.49 313.78L1110.62 531.43L1110.76 437.79L1110.89 448.19L1111.03 374.91L1111.16 447.98L1111.3 315.17L1111.43 483.1L1111.57 594.12L1111.7 333.86L1111.84 364.8L1111.97 551.36L1112.11 363.26L1112.24 362.98L1112.37 477.36L1112.51 401.47L1112.64 397.03L1112.78 465.77L1112.91 474.76L1113.05 482.62L1113.18 446.29L1113.32 526.96L1113.45 425.48L1113.59 537.16L1113.72 414.83L1113.85 429.35L1113.99 509.07L1114.12 344.13L1114.26 431.09L1114.39 314.7L1114.53 529.28L1114.66 317.89L1114.8 401.84L1114.93 426.53L1115.07 475.9L1115.2 422.37L1115.33 310.85L1115.47 372.27L1115.6 459.42L1115.74 482.69L1115.87 459.63L1116.01 368.47L1116.14 379.93L1116.28 510.42L1116.41 421.99L1116.55 456.82L1116.68 490.26L1116.81 385.65L1116.95 371.73L1117.08 532.44L1117.22 509.11L1117.35 322.89L1117.49 393.01L1117.62 374.44L1117.76 467.37L1117.89 274.5L1118.03 380.17L1118.16 466.98L1118.29 513.49L1118.43 421.82L1118.56 340.08L1118.7 558.5L1118.83 331.15L1118.97 358.13L1119.1 498.9L1119.24 421.17L1119.37 425.63L1119.51 364.33L1119.64 361.36L1119.77 525.27L1119.91 528.05L1120.04 332.81L1120.18 411.56L1120.31 383.98L1120.45 391.53L1120.58 302.34L1120.72 519.36L1120.85 329.29L1120.99 496.06L1121.12 355.84L1121.25 314.07L1121.39 530.11L1121.52 385.29L1121.66 446.96L1121.79 448.15L1121.93 417.95L1122.06 509.89L1122.2 504.71L1122.33 362.23L1122.47 345.24L1122.6 473.26L1122.73 534.5L1122.87 287L1123 328.8L1123.14 389.25L1123.27 508.57L1123.41 474.57L1123.54 399.86L1123.68 504.46L1123.81 578.75L1123.95 409.44L1124.08 386.27L1124.21 508.46L1124.35 501.33L1124.48 493.14L1124.62 396.83L1124.75 445.82L1124.89 447.94L1125.02 393.33L1125.16 401.46L1125.29 305.64L1125.43 439.6L1125.56 507.41L1125.69 422.88L1125.83 306.92L1125.96 471.8L1126.1 417.41L1126.23 454.09L1126.37 385.27L1126.5 398.62L1126.64 494.94L1126.77 442.37L1126.91 338.28L1127.04 329.3L1127.17 339.38L1127.31 344L1127.44 451.78L1127.58 454.56L1127.71 339.01L1127.85 516.72L1127.98 426.96L1128.12 262.88L1128.25 455.92L1128.39 485.34L1128.52 518.67L1128.65 369.55L1128.79 554.75L1128.92 454.8L1129.06 444.92L1129.19 487.99L1129.33 309.64L1129.46 466.17L1129.6 403.98L1129.73 524.75L1129.87 464.29L1130 450.81L1130.13 449.31L1130.27 474.26L1130.4 408.79L1130.54 301.35L1130.67 249.5L1130.81 434.19L1130.94 456.78L1131.08 420.18L1131.21 359.33L1131.35 371.54L1131.48 358.28L1131.61 485.5L1131.75 435.37L1131.88 402.68L1132.02 410.87L1132.15 497.89L1132.29 491.71L1132.42 375.25L1132.56 393.5L1132.69 333.37L1132.83 413.28L1132.96 318.84L1133.09 479.56L1133.23 399.97L1133.36 533.55L1133.5 346.73L1133.63 512.89L1133.77 521.2L1133.9 450.01L1134.04 501.26L1134.17 476.41L1134.31 521.82L1134.44 380.04L1134.57 400.93L1134.71 295.36L1134.84 522.18L1134.98 541.94L1135.11 449.83L1135.25 387.49L1135.38 389.41L1135.52 329.97L1135.65 535.84L1135.79 495.58L1135.92 433.3L1136.05 346.07L1136.19 378.73L1136.32 459.33L1136.46 507.31L1136.59 342.21L1136.73 337.82L1136.86 261.38L1137 437.42L1137.13 496.5L1137.27 518.53L1137.4 470.25L1137.53 482.23L1137.67 463.06L1137.8 498.84L1137.94 470.22L1138.07 426.32L1138.21 461.82L1138.34 362.17L1138.48 428.93L1138.61 421.56L1138.75 306.56L1138.88 393.13L1139.01 407.52L1139.15 423.13L1139.28 415.79L1139.42 369.94L1139.55 493.38L1139.69 326.46L1139.82 300.62L1139.96 325.96L1140.09 465.52L1140.23 541.7L1140.36 460.6L1140.49 407.59L1140.63 567.25L1140.76 437.75L1140.9 448.61L1141.03 303.7L1141.17 481.49L1141.3 331.07L1141.44 340.4L1141.57 525.73L1141.71 396.4L1141.84 471.37L1141.97 502.98L1142.11 431.69L1142.24 540.1L1142.38 384.17L1142.51 456.22L1142.65 396.86L1142.78 509.63L1142.92 450.14L1143.05 445.74L1143.19 538.77L1143.32 545.87L1143.45 381.86L1143.59 408.14L1143.72 297.88L1143.86 430.46L1143.99 361.92L1144.13 514.75L1144.26 499.45L1144.4 366.02L1144.53 337.44L1144.67 415.43L1144.8 306.94L1144.93 415.93L1145.07 308.05L1145.2 422.29L1145.34 518.36L1145.47 351.4L1145.61 331.99L1145.74 322.62L1145.88 323.17L1146.01 424.05L1146.15 488.52L1146.28 462.76L1146.41 424.49L1146.55 384.93L1146.68 464.58L1146.82 417.01L1146.95 342.63L1147.09 392.16L1147.22 372.74L1147.36 504.05L1147.49 514.76L1147.63 472.37L1147.76 524.57L1147.89 515.79L1148.03 372.31L1148.16 505.62L1148.3 508.81L1148.43 268.88L1148.57 349.41L1148.7 453.31L1148.84 453.49L1148.97 339.52L1149.11 378.95L1149.24 380.36L1149.38 337.79L1149.51 506.82L1149.64 402L1149.78 478.39L1149.91 333.19L1150.05 347.98L1150.18 508.72L1150.32 314.58L1150.45 516.14L1150.59 324.78L1150.72 402.92L1150.86 498.68L1150.99 513.13L1151.12 448.79L1151.26 423.55L1151.39 485.36L1151.53 370.69L1151.66 530.34L1151.8 422.05L1151.93 421.33L1152.07 531.12L1152.2 393.52L1152.34 522.02L1152.47 639.78L1152.6 476.73L1152.74 442.03L1152.87 340.24L1153.01 465.26L1153.14 306.2L1153.28 308.31L1153.41 329.21L1153.55 315.32L1153.68 389.84L1153.82 471.68L1153.95 362.97L1154.08 336.5L1154.22 399.9L1154.35 443.56L1154.49 223.1L1154.62 360.44L1154.76 389.71L1154.89 524.54L1155.03 412.47L1155.16 356.23L1155.3 431.32L1155.43 350.71L1155.56 353.33L1155.7 535.27L1155.83 448.67L1155.97 377.69L1156.1 339.44L1156.24 309.9L1156.37 411.59L1156.51 427.46L1156.64 356.8L1156.78 321.24L1156.91 483.25L1157.04 502.65L1157.18 455.16L1157.31 509.63L1157.45 347.52L1157.58 526.05L1157.72 323.67L1157.85 338.22L1157.99 377.41L1158.12 350.12L1158.26 612.31L1158.39 353.74L1158.52 531.78L1158.66 443.18L1158.79 430.94L1158.93 340.99L1159.06 395.93L1159.2 396.67L1159.33 461.34L1159.47 421.03L1159.6 433.66L1159.74 355.64L1159.87 437.75L1160 332.53L1160.14 548.98L1160.27 322.64L1160.41 436.95L1160.54 326.99L1160.68 235.38L1160.81 344.23L1160.95 304.7L1161.08 471.72L1161.22 414.35L1161.35 436.98L1161.48 402.75L1161.62 544.28L1161.75 437.11L1161.89 551L1162.02 492.78L1162.16 439.24L1162.29 539.61L1162.43 310.6L1162.56 267.25L1162.7 373.96L1162.83 499.28L1162.96 516.66L1163.1 396.15L1163.23 547.28L1163.37 401.26L1163.5 485.35L1163.64 452L1163.77 398.77L1163.91 417.63L1164.04 399.93L1164.18 364.61L1164.31 524.39L1164.44 335.84L1164.58 527.31L1164.71 414.03L1164.85 521.7L1164.98 496.72L1165.12 315.93L1165.25 472.33L1165.39 480.23L1165.52 472.83L1165.66 450.25L1165.79 308.19L1165.92 517.63L1166.06 521.16L1166.19 369.63L1166.33 543.14L1166.46 455.24L1166.6 327.19L1166.73 422.08L1166.87 465.66L1167 486.53L1167.14 502.19L1167.27 475.82L1167.4 410.08L1167.54 320.6L1167.67 337.11L1167.81 473.72L1167.94 488.79L1168.08 359.73L1168.21 556.86L1168.35 462.48L1168.48 452.22L1168.62 514.02L1168.75 507.2L1168.88 391.55L1169.02 547.37L1169.15 502.61L1169.29 481.92L1169.42 415.98L1169.56 530.32L1169.69 294.75L1169.83 451.48L1169.96 447.22L1170.1 456.55L1170.23 484.74L1170.36 506.95L1170.5 327.48L1170.63 405.71L1170.77 434.09L1170.9 336.58L1171.04 488.61L1171.17 367.47L1171.31 422.44L1171.44 501.96L1171.58 355.94L1171.71 538.58L1171.84 542.25L1171.98 501.82L1172.11 387.92L1172.25 314.06L1172.38 373.71L1172.52 479.43L1172.65 427.72L1172.79 458.39L1172.92 519.26L1173.06 515.26L1173.19 421.49L1173.32 377.02L1173.46 555.37L1173.59 432.17L1173.73 380.04L1173.86 415.94L1174 509.36L1174.13 335.53L1174.27 522.33L1174.4 258.25L1174.54 301.66L1174.67 328.73L1174.8 403.14L1174.94 398.14L1175.07 406.07L1175.21 495.66L1175.34 454.67L1175.48 533.67L1175.61 414.79L1175.75 378.37L1175.88 486.7L1176.02 505.37L1176.15 469.45L1176.28 427.7L1176.42 421.52L1176.55 436.39L1176.69 420.91L1176.82 528.65L1176.96 388.32L1177.09 371.71L1177.23 313.47L1177.36 535.17L1177.5 295.38L1177.63 400.34L1177.76 341.65L1177.9 369.1L1178.03 322.38L1178.17 432.29L1178.3 390.24L1178.44 390.5L1178.57 466.3L1178.71 327.04L1178.84 371.52L1178.98 340.08L1179.11 462.59L1179.24 337.08L1179.38 562.25L1179.51 392.28L1179.65 314.35L1179.78 510.61L1179.92 361.56L1180.05 468.13L1180.19 412.14L1180.32 547.69L1180.46 306.4L1180.59 245.38L1180.72 430.1L1180.86 390.49L1180.99 398.38L1181.13 314.49L1181.26 408.58L1181.4 538.62L1181.53 450.74L1181.67 322.52L1181.8 376.78L1181.94 465.54L1182.07 373.14L1182.2 417.39L1182.34 178.59L1182.47 545.52L1182.61 504.16L1182.74 368.13L1182.88 447.8L1183.01 396.33L1183.15 383.85L1183.28 455.75L1183.42 406.19L1183.55 477.74L1183.68 483.81L1183.82 434.53L1183.95 537.38L1184.09 384.65L1184.22 317.67L1184.36 564.75L1184.49 332.01L1184.63 416.88L1184.76 414.48L1184.9 367.79L1185.03 363.53L1185.16 522.23L1185.3 327.13L1185.43 508.31L1185.57 289.12L1185.7 409.95L1185.84 420.61L1185.97 447.46L1186.11 458.88L1186.24 372.82L1186.38 423.18L1186.51 390.38L1186.64 501.55L1186.78 505.21L1186.91 397.72L1187.05 543.9L1187.18 500.9L1187.32 370.32L1187.45 482.78L1187.59 503.46L1187.72 516.35L1187.86 269.5L1187.99 460.27L1188.12 414.31L1188.26 444.53L1188.39 456.68L1188.53 466.74L1188.66 612.31L1188.8 417.3L1188.93 427.49L1189.07 413.72L1189.2 546.31L1189.34 331.55L1189.47 430.48L1189.61 431.51L1189.74 544.91L1189.87 385.4L1190.01 433.52L1190.14 318.65L1190.28 464.79L1190.41 523.89L1190.55 416.2L1190.68 504.75L1190.82 390.6L1190.95 514.63L1191.09 439.18L1191.22 447.89L1191.35 430.72L1191.49 473.53L1191.62 498.77L1191.76 432.97L1191.89 479.34L1192.03 414.06L1192.16 451.91L1192.3 427.9L1192.43 433.18L1192.57 316.61L1192.7 400.68L1192.83 374.38L1192.97 387.14L1193.1 469.4L1193.24 529.48L1193.37 355.71L1193.51 336.38L1193.64 377.33L1193.78 563.5L1193.91 392.6L1194.05 247L1194.18 403.33L1194.31 426.58L1194.45 398.72L1194.58 506.19L1194.72 483.43L1194.85 377.25L1194.99 457.63L1195.12 456.2L1195.26 416.56L1195.39 553.45L1195.53 360.64L1195.66 363.94L1195.79 368.12L1195.93 486.18L1196.06 516.53L1196.2 446.2L1196.33 425.68L1196.47 495.4L1196.6 413.42L1196.74 366.76L1196.87 374.46L1197.01 511.02L1197.14 414.6L1197.27 426.95L1197.41 485.25L1197.54 387.86L1197.68 302.2L1197.81 249.75L1197.95 401.87L1198.08 333.51L1198.22 302.05L1198.35 422.89L1198.49 402.99L1198.62 351.99L1198.75 429.95L1198.89 470.6L1199.02 492.57L1199.16 426.09L1199.29 481.13L1199.43 356.58L1199.56 649.99L1199.7 312.63L1199.83 327.5L1199.97 521.85L1200.1 334.86L1200.23 461.53L1200.37 318.05L1200.5 381.18L1200.64 430.05L1200.77 367.15L1200.91 474.69L1201.04 397.09L1201.18 392.14L1201.31 438.62L1201.45 391.85L1201.58 507.2L1201.71 376.84L1201.85 237L1201.98 371.04L1202.12 384.16L1202.25 363.42L1202.39 473.92L1202.52 436.78L1202.66 444.84L1202.79 411.73L1202.93 490.7L1203.06 313.92L1203.19 465.76L1203.33 339L1203.46 503.25L1203.6 397.41L1203.73 456.7L1203.87 343.19L1204 449.56L1204.14 498.34L1204.27 384.73L1204.41 517.04L1204.54 503.47L1204.67 357.05L1204.81 497.28L1204.94 357.68L1205.08 458.5L1205.21 500.83L1205.35 402.28L1205.48 368.52L1205.62 549.12L1205.75 438.58L1205.89 353.7L1206.02 357.75L1206.15 427.49L1206.29 489.81L1206.42 502.01L1206.56 474.52L1206.69 363.84L1206.83 372.62L1206.96 396.25L1207.1 315.19L1207.23 448.43L1207.37 455.27L1207.5 455.65L1207.63 466.16L1207.77 368.76L1207.9 396.91L1208.04 383.37L1208.17 416.55L1208.31 452.19L1208.44 327.62L1208.58 354.98L1208.71 498.32L1208.85 378.46L1208.98 453.6L1209.11 417.54L1209.25 403.95L1209.38 462.86L1209.52 366.5L1209.65 300.57L1209.79 334.81L1209.92 402.23L1210.06 343.64L1210.19 331.85L1210.33 332.32L1210.46 437.29L1210.59 461.74L1210.73 363.67L1210.86 490.22L1211 351.66L1211.13 507.46L1211.27 498.53L1211.4 418.77L1211.54 529.07L1211.67 233.5L1211.81 374.16L1211.94 520.72L1212.07 340.39L1212.21 468.22L1212.34 372.58L1212.48 401.39L1212.61 459.02L1212.75 464.75L1212.88 543.21L1213.02 479.56L1213.15 485.94L1213.29 389.64L1213.42 335.1L1213.55 156.56L1213.69 577.25L1213.82 400.35L1213.96 452.13L1214.09 379.68L1214.23 351.37L1214.36 468.29L1214.5 442.93L1214.63 405.06L1214.77 501.29L1214.9 403.4L1215.03 426.18L1215.17 477.59L1215.3 491.43L1215.44 392.94L1215.57 273.5L1215.71 390.73L1215.84 492.5L1215.98 354.82L1216.11 404.47L1216.25 368.24L1216.38 326.84L1216.51 496.48L1216.65 431.01L1216.78 470.25L1216.92 493.95L1217.05 517.89L1217.19 339.32L1217.32 512.58L1217.46 382.41L1217.59 466.58L1217.73 327.7L1217.86 411.75L1217.99 433.84L1218.13 406.68L1218.26 386.01L1218.4 416.3L1218.53 437.68L1218.67 430.68L1218.8 375.07L1218.94 508.82L1219.07 419L1219.21 429.1L1219.34 460.43L1219.47 639.78L1219.61 517.99L1219.74 450.08L1219.88 491.74L1220.01 372.14L1220.15 458.84L1220.28 414.61L1220.42 385.85L1220.55 535.7L1220.69 380.09L1220.82 482.78L1220.95 440.55L1221.09 428.39L1221.22 349.57L1221.36 355.6L1221.49 292.08L1221.63 403.61L1221.76 459.52L1221.9 280.12L1222.03 362.82L1222.17 301.48L1222.3 389.56L1222.43 468.03L1222.57 395.24L1222.7 396.83L1222.84 415.92L1222.97 482.26L1223.11 339.08L1223.24 464.62L1223.38 332.94L1223.51 400.53L1223.65 338.74L1223.78 418.27L1223.91 414.38L1224.05 479.75L1224.18 402.41L1224.32 512.83L1224.45 350.45L1224.59 485.62L1224.72 370.67L1224.86 416.85L1224.99 511.5L1225.13 361.82L1225.26 520.7L1225.39 316.64L1225.53 413.52L1225.66 503.13L1225.8 548.03L1225.93 300.69L1226.07 310.23L1226.2 515.94L1226.34 421.19L1226.47 404.4L1226.61 437.63L1226.74 426.14L1226.88 441.67L1227.01 311.4L1227.14 405.86L1227.28 442.39L1227.41 419.44L1227.55 343.27L1227.68 506.45L1227.82 449.19L1227.95 496.07L1228.09 414.71L1228.22 384.98L1228.36 398.33L1228.49 469.88L1228.62 487.15L1228.76 346.25L1228.89 427.3L1229.03 364.87L1229.16 487.74L1229.3 351.25L1229.43 414.52L1229.57 483.71L1229.7 315.37L1229.84 408.13L1229.97 495.16L1230.1 445.99L1230.24 334.9L1230.37 514.09L1230.51 314.41L1230.64 360.09L1230.78 442.53L1230.91 315.67L1231.05 397.11L1231.18 367.44L1231.32 404.1L1231.45 267.62L1231.58 307.6L1231.72 497.55L1231.85 609.75L1231.99 437.14L1232.12 453.9L1232.26 530.01L1232.39 341.37L1232.53 411.52L1232.66 410.23L1232.8 312.48L1232.93 467.19L1233.06 423.59L1233.2 395.19L1233.33 455.82L1233.47 428.23L1233.6 352.89L1233.74 419.44L1233.87 316.85L1234.01 483.21L1234.14 401.36L1234.28 526.16L1234.41 428.86L1234.54 479.09L1234.68 314.96L1234.81 354.67L1234.95 374.91L1235.08 401.97L1235.22 310.17L1235.35 269.5L1235.49 478.11L1235.62 527.43L1235.76 421.26L1235.89 449.34L1236.02 474.44L1236.16 443.73L1236.29 539.64L1236.43 307.26L1236.56 509.82L1236.7 476.65L1236.83 369.54L1236.97 538.21L1237.1 339.78L1237.24 338.83L1237.37 445.69L1237.5 506.42L1237.64 459.62L1237.77 493.15L1237.91 313.07L1238.04 414.01L1238.18 482.34L1238.31 496.95L1238.45 369.1L1238.58 306.27L1238.72 517.73L1238.85 468.42L1238.98 546.09L1239.12 360.21L1239.25 405.15L1239.39 494.07L1239.52 429.3L1239.66 456.43L1239.79 480.13L1239.93 344.8L1240.06 538.64L1240.2 353.67L1240.33 397.31L1240.46 462.51L1240.6 496.81L1240.73 332.04L1240.87 315.47L1241 198.35L1241.14 372.77L1241.27 458.85L1241.41 472.51L1241.54 440.56L1241.68 514.85L1241.81 431.53L1241.94 425.78L1242.08 455.04L1242.21 482.92L1242.35 536.25L1242.48 522.28L1242.62 501.14L1242.75 362.95L1242.89 462.97L1243.02 492.78L1243.16 361.61L1243.29 369.74L1243.42 484.35L1243.56 473.23L1243.69 361.19L1243.83 386.92L1243.96 491.48L1244.1 397.75L1244.23 421.26L1244.37 328.41L1244.5 494.32L1244.64 341.74L1244.77 381.02L1244.9 503.1L1245.04 331.71L1245.17 339.9L1245.31 251.62L1245.44 443.35L1245.58 510.96L1245.71 498.11L1245.85 446.88L1245.98 351.4L1246.12 367.76L1246.25 426.98L1246.38 313.38L1246.52 383.28L1246.65 311.6L1246.79 334.24L1246.92 401.76L1247.06 517.81L1247.19 458.37L1247.33 507.24L1247.46 410.62L1247.6 410.13L1247.73 516.07L1247.86 547.25L1248 441.89L1248.13 435.98L1248.27 416.44L1248.4 335.79L1248.54 415.97L1248.67 419.58L1248.81 392.54L1248.94 504.62L1249.08 423.19L1249.21 331.92L1249.34 329.66L1249.48 377.88L1249.61 443.39L1249.75 491.37L1249.88 315.16L1250.02 261.38L1250.15 456.19L1250.29 484.18L1250.42 495.9L1250.56 558.87L1250.69 319.3L1250.82 401.96L1250.96 484.97L1251.09 443.34L1251.23 474.48L1251.36 320.89L1251.5 524.29L1251.63 430.38L1251.77 517.55L1251.9 547.33L1252.04 403.14L1252.17 531.27L1252.3 299.7L1252.44 414.79L1252.57 452.4L1252.71 400.65L1252.84 256.62L1252.98 531.87L1253.11 556.53L1253.25 472.68L1253.38 393.53L1253.52 501.47L1253.65 397.33L1253.78 304.3L1253.92 473.73L1254.05 373.88L1254.19 299.63L1254.32 331.66L1254.46 460.2L1254.59 338.99L1254.73 478.71L1254.86 530.31L1255 371.42L1255.13 308.64L1255.26 341.88L1255.4 520.18L1255.53 340.33L1255.67 536.62L1255.8 460.35L1255.94 459L1256.07 331.68L1256.21 339.23L1256.34 373.62L1256.48 261.38L1256.61 534.62L1256.74 331.77L1256.88 345.81L1257.01 373.81L1257.15 441.12L1257.28 382.91L1257.42 467.94L1257.55 447.1L1257.69 497.2L1257.82 395.24L1257.96 456.75L1258.09 335.16L1258.22 353.16L1258.36 492.66L1258.49 347.38L1258.63 512.37L1258.76 377.68L1258.9 327.32L1259.03 315.19L1259.17 319.58L1259.3 332.13L1259.44 547.25L1259.57 305.4L1259.7 347.27L1259.84 480.47L1259.97 427.72L1260.11 459.43L1260.24 311.35L1260.38 480.72L1260.51 318.25L1260.65 367.39L1260.78 533.12L1260.92 504.87L1261.05 461.6L1261.18 228.25L1261.32 332.42L1261.45 435.4L1261.59 337.38L1261.72 540.66L1261.86 356.08L1261.99 449.56L1262.13 376.71L1262.26 451.78L1262.4 506.02L1262.53 380.02L1262.66 366.95L1262.8 428.17L1262.93 485.2L1263.07 496.14L1263.2 361.65L1263.34 422.39L1263.47 362.63L1263.61 318.61L1263.74 327.37L1263.88 500.83L1264.01 334.55L1264.14 341.41L1264.28 373.89L1264.41 574.12L1264.55 470.11L1264.68 425.51L1264.82 466.76L1264.95 349.24L1265.09 478.52L1265.22 382.67L1265.36 511.03L1265.49 429.87L1265.62 451.84L1265.76 429.16L1265.89 406.53L1266.03 435.54L1266.16 438.8L1266.3 481.59L1266.43 325.7L1266.57 475.79L1266.7 441.12L1266.84 494.48L1266.97 331.99L1267.11 499.78L1267.24 372.51L1267.37 321.19L1267.51 292.27L1267.64 320.58L1267.78 361.95L1267.91 517.38L1268.05 314.22L1268.18 320.54L1268.32 341.84L1268.45 345.02L1268.59 411.44L1268.72 465.53L1268.85 326.99L1268.99 315.14L1269.12 507.35L1269.26 336.8L1269.39 276L1269.53 537.25L1269.66 392.9L1269.8 324.98L1269.93 330.06L1270.07 338.19L1270.2 527.7L1270.33 342.47L1270.47 413.06L1270.6 511.95L1270.74 352.98L1270.87 526.75L1271.01 337.56L1271.14 288.87L1271.28 233.5L1271.41 336.02L1271.55 376.05L1271.68 357.85L1271.81 525.36L1271.95 361.51L1272.08 404.75L1272.22 349.58L1272.35 416.04L1272.49 325.45L1272.62 391.76L1272.76 354.87L1272.89 308.6L1273.03 399.95L1273.16 331.33L1273.29 395.75L1273.43 368.95L1273.56 464.08L1273.7 345.91L1273.83 317.27L1273.97 423.56L1274.1 344.15L1274.24 377.23L1274.37 509.22L1274.51 384.03L1274.64 311.58L1274.77 459.85L1274.91 454.72L1275.04 397.34L1275.18 473.94L1275.31 471.61L1275.45 419.44L1275.58 416.14L1275.72 472.46L1275.85 393.11L1275.99 466.54L1276.12 496.85L1276.25 421.23L1276.39 488.65L1276.52 576L1276.66 512.17L1276.79 422.15L1276.93 477.54L1277.06 525.11L1277.2 517.4L1277.33 356.31L1277.47 303.54L1277.6 526.94L1277.73 407.37L1277.87 453.6L1278 411.95L1278.14 524.48L1278.27 312.25L1278.41 399.92L1278.54 262.88L1278.68 418.35L1278.81 500.17L1278.95 404.48L1279.08 301.23L1279.21 449.83L1279.35 402.97L1279.48 318.91L1279.62 505.07L1279.75 468.26L1279.89 388.46L1280.02 465.99L1280.16 473.33L1280.29 451.39L1280.43 472.25L1280.56 546.07L1280.69 440.85L1280.83 247.88L1280.96 403.6L1281.1 318.26L1281.23 566L1281.37 430.48L1281.5 356.16L1281.64 349.03L1281.77 425.75L1281.91 420.24L1282.04 373.04L1282.17 445.47L1282.31 459.42L1282.44 539.69L1282.58 376.6L1282.71 439.12L1282.85 386.95L1282.98 445.5L1283.12 342.63L1283.25 334.96L1283.39 292.07L1283.52 520.5L1283.65 518.11L1283.79 290.75L1283.92 567.88L1284.06 443.29L1284.19 450.87L1284.33 446.32L1284.46 347.52L1284.6 369.73L1284.73 409.86L1284.87 499.23L1285 421.19L1285.13 488.75L1285.27 381.41L1285.4 450.22L1285.54 539.34L1285.67 486.76L1285.81 429.27L1285.94 465.03L1286.08 436.7L1286.21 350.05L1286.35 363.58L1286.48 480.95L1286.61 647.57L1286.75 407.94L1286.88 452.13L1287.02 418.86L1287.15 480.09L1287.29 481.34L1287.42 411.67L1287.56 503.92L1287.69 378.32L1287.83 433L1287.96 497.51L1288.09 470.45L1288.23 458.45L1288.36 430.06L1288.5 405.63L1288.63 434.42L1288.77 493.26L1288.9 305.89L1289.04 337.16L1289.17 405.98L1289.31 334.51L1289.44 386.73L1289.57 438.92L1289.71 408.29L1289.84 336.38L1289.98 332.22L1290.11 329.39L1290.25 451.04L1290.38 362.51L1290.52 386.74L1290.65 377.98L1290.79 327.66L1290.92 316.68L1291.05 358.73L1291.19 297.59L1291.32 395.52L1291.46 371.8L1291.59 471.8L1291.73 438.26L1291.86 388.98L1292 406.18L1292.13 308.91L1292.27 459.32L1292.4 416.52L1292.53 485.51L1292.67 414.12L1292.8 450.56L1292.94 624.73L1293.07 427.36L1293.21 469.23L1293.34 442.23L1293.48 426.69L1293.61 461.58L1293.75 335.76L1293.88 356.54L1294.01 403.27L1294.15 512.84L1294.28 370.33L1294.42 518.12L1294.55 399.77L1294.69 259.5L1294.82 468.43L1294.96 489.71L1295.09 477.78L1295.23 488.79L1295.36 439.73L1295.49 434.54L1295.63 334.67L1295.76 379.12L1295.9 329.04L1296.03 514.98L1296.17 506.93L1296.3 346.69L1296.44 419.95L1296.57 441.86L1296.71 402L1296.84 332.9L1296.97 512.69L1297.11 391.21L1297.24 418.77L1297.38 356.75L1297.51 400.93L1297.65 463.2L1297.78 492.82L1297.92 441.94L1298.05 333.68L1298.19 558.5L1298.32 451.9L1298.45 293.28L1298.59 453.2L1298.72 362.29L1298.86 434.9L1298.99 354.62L1299.13 413.7L1299.26 461.2L1299.4 311.98L1299.53 439.75L1299.67 521.43L1299.8 445.29L1299.93 368.79L1300.07 508.15L1300.2 346.99L1300.34 348.83L1300.47 481.08L1300.61 472.83L1300.74 358.05L1300.88 541.07L1301.01 453.19L1301.15 407.09L1301.28 380.45L1301.41 421.18L1301.55 424.34L1301.68 470.3L1301.82 455.55L1301.95 389.44L1302.09 367.15L1302.22 360.03L1302.36 333.02L1302.49 321.88L1302.63 548.76L1302.76 462.27L1302.89 430.56L1303.03 472.98L1303.16 330.14L1303.3 350.53L1303.43 280.38L1303.57 589.75L1303.7 317.47L1303.84 446.89L1303.97 443.99L1304.11 338.16L1304.24 375.08L1304.38 308.25L1304.51 383.87L1304.64 350.57L1304.78 464.22L1304.91 498.05L1305.05 417.15L1305.18 365.74L1305.32 380.5L1305.45 334.53L1305.59 409.64L1305.72 435.7L1305.86 327.92L1305.99 288.5L1306.12 334.01L1306.26 391.14L1306.39 352.83L1306.53 336.41L1306.66 373L1306.8 394.27L1306.93 392.12L1307.07 410.37L1307.2 328.16L1307.34 537.24L1307.47 439.73L1307.6 358.68L1307.74 490.23L1307.87 425.5L1308.01 477.12L1308.14 564.75L1308.28 340.67L1308.41 306.42L1308.55 372.27L1308.68 479.23L1308.82 394.22L1308.95 266.38L1309.08 308.97L1309.22 517.3L1309.35 383.77L1309.49 549.71L1309.62 353.66L1309.76 377.32L1309.89 372.56L1310.03 339.51L1310.16 382.54L1310.3 472.87L1310.43 385.52L1310.56 321.49L1310.7 426.44L1310.83 413.82L1310.97 513.34L1311.1 323.87L1311.24 460.43L1311.37 481.25L1311.51 455.41L1311.64 491.62L1311.78 438.26L1311.91 606L1312.04 346.89L1312.18 308.26L1312.31 315.42L1312.45 252.88L1312.58 374.24L1312.72 303.87L1312.85 546.21L1312.99 525.27L1313.12 525.85L1313.26 375.35L1313.39 445.64L1313.52 500.89L1313.66 383.05L1313.79 485.27L1313.93 491.7L1314.06 418.45L1314.2 405.49L1314.33 360.73L1314.47 336.57L1314.6 400.53L1314.74 437.17L1314.87 474.77L1315 539.17L1315.14 454.88L1315.27 333.42L1315.41 359.63L1315.54 384.09L1315.68 429.93L1315.81 547.28L1315.95 344.34L1316.08 331.2L1316.22 510.99L1316.35 537.28L1316.48 403.39L1316.62 354.51L1316.75 508.31L1316.89 446.46L1317.02 484.67L1317.16 511.86L1317.29 519.81L1317.43 404.63L1317.56 271L1317.7 475.58L1317.83 425.89L1317.96 344.14L1318.1 498.49L1318.23 428.99L1318.37 509.51L1318.5 383.96L1318.64 531.39L1318.77 408.95L1318.91 433.65L1319.04 590.38L1319.18 507.26L1319.31 245.62L1319.44 437.87L1319.58 364.21L1319.71 529.46L1319.85 391.94L1319.98 474.7L1320.12 390.22L1320.25 360.34L1320.39 405.18L1320.52 394.57L1320.66 393.13L1320.79 468.96L1320.92 436.52L1321.06 540.48L1321.19 448.71L1321.33 484.91L1321.46 440L1321.6 353.37L1321.73 384.37L1321.87 376.65L1322 328.22L1322.14 345.74L1322.27 380.26L1322.4 420.02L1322.54 426.51L1322.67 519.97L1322.81 369.92L1322.94 325.8L1323.08 332.63L1323.21 425.56L1323.35 362.24L1323.48 338.66L1323.62 310.77L1323.75 578.5L1323.88 405.72L1324.02 409.88L1324.15 291.25L1324.29 398.32L1324.42 461.6L1324.56 350.73L1324.69 478.71L1324.83 488.29L1324.96 387.23L1325.1 468.41L1325.23 439.64L1325.36 463.35L1325.5 348.85L1325.63 418.86L1325.77 429.47L1325.9 377.88L1326.04 399.98L1326.17 479.51L1326.31 417.33L1326.44 457.78L1326.58 335.92L1326.71 487.25L1326.84 472.64L1326.98 410.21L1327.11 489.94L1327.25 331.64L1327.38 447.69L1327.52 508.23L1327.65 316.18L1327.79 339.15L1327.92 496.11L1328.06 324.07L1328.19 401.38L1328.32 509.55L1328.46 292.66L1328.59 466.99L1328.73 442.04L1328.86 495.17L1329 406.87L1329.13 414.39L1329.27 354.2L1329.4 562.25L1329.54 530.08L1329.67 489.49L1329.8 310.5L1329.94 325.81L1330.07 432.73L1330.21 430.49L1330.34 433.34L1330.48 416.65L1330.61 542.39L1330.75 340.56L1330.88 476.16L1331.02 405.8L1331.15 358.36L1331.28 398.19L1331.42 315.03L1331.55 373.48L1331.69 641.99L1331.82 377.36L1331.96 482.77L1332.09 536.96L1332.23 325.4L1332.36 395.86L1332.5 262.25L1332.63 442.43L1332.76 488.39L1332.9 342.56L1333.03 500.21L1333.17 340.21L1333.3 393.85L1333.44 498.55L1333.57 529.12L1333.71 316.67L1333.84 477.04L1333.98 510.7L1334.11 360.9L1334.24 398.65L1334.38 295.21L1334.51 382.19L1334.65 364.66L1334.78 358.3L1334.92 362.55L1335.05 288.5L1335.19 447.46L1335.32 434.26L1335.46 626.56L1335.59 498.96L1335.72 492.9L1335.86 331.01L1335.99 381.43L1336.13 447.79L1336.26 442.86L1336.4 393.2L1336.53 479.84L1336.67 441.8L1336.8 545.21L1336.94 360.05L1337.07 336.75L1337.2 386.99L1337.34 376.89L1337.47 386.73L1337.61 408.75L1337.74 400.9L1337.88 521.63L1338.01 505.66L1338.15 356.39L1338.28 330.77L1338.42 351.22L1338.55 345.15L1338.68 402.43L1338.82 531.54L1338.95 480.98L1339.09 550.55L1339.22 452.8L1339.36 524.19L1339.49 410.43L1339.63 433.84L1339.76 389.16L1339.9 354.67L1340.03 352.21L1340.16 525.98L1340.3 406.35L1340.43 356.08L1340.57 444.62L1340.7 343.93L1340.84 402.58L1340.97 330.51L1341.11 402.91L1341.24 433.78L1341.38 374.36L1341.51 350.44L1341.64 397.43L1341.78 458.92L1341.91 488.95L1342.05 452.36L1342.18 469.99L1342.32 401.55L1342.45 404.7L1342.59 427.18L1342.72 419.92L1342.86 404.61L1342.99 320.62L1343.12 323.2L1343.26 470.66L1343.39 382.69L1343.53 448.87L1343.66 428.5L1343.8 586L1343.93 475.07L1344.07 525.27L1344.2 327.43L1344.34 402.37L1344.47 324.55L1344.61 498.81L1344.74 375.49L1344.87 454.25L1345.01 395.53L1345.14 491.41L1345.28 440.68L1345.41 430.03L1345.55 323.51L1345.68 401.29L1345.82 432.5L1345.95 405.71L1346.09 363.04L1346.22 571L1346.35 197.76L1346.49 388.6L1346.62 457.36L1346.76 508.94L1346.89 459.97L1347.03 458.42L1347.16 403.75L1347.3 513.52L1347.43 463.89L1347.57 457.37L1347.7 392.25L1347.83 370.8L1347.97 482.15L1348.1 504.97L1348.24 433.81L1348.37 332.11L1348.51 537.87L1348.64 467.51L1348.78 494.28L1348.91 401.55L1349.05 372.52L1349.18 451.34L1349.31 550.38L1349.45 401.7L1349.58 367.75L1349.72 421.33L1349.85 465.25L1349.99 370.19L1350.12 426.33L1350.26 512.36L1350.39 412.96L1350.53 522.86L1350.66 337.5L1350.79 379.68L1350.93 277.25L1351.06 402.54L1351.2 320.72L1351.33 492.34L1351.47 433.87L1351.6 415.84L1351.74 538.57L1351.87 436.36L1352.01 530.97L1352.14 427.48L1352.27 409.21L1352.41 543L1352.54 469.44L1352.68 409.13L1352.81 387.68L1352.95 383.49L1353.08 326.59L1353.22 359.08L1353.35 355.48L1353.49 282.88L1353.62 435.46L1353.75 481.42L1353.89 546.79L1354.02 347.25L1354.16 355.21L1354.29 335.7L1354.43 457.62L1354.56 636.26L1354.7 455.12L1354.83 428.8L1354.97 415.91L1355.1 387.68L1355.23 388.94L1355.37 549.62L1355.5 480.11L1355.64 429.68L1355.77 453.1L1355.91 405.83L1356.04 490.48L1356.18 430.75L1356.31 517.3L1356.45 456.32L1356.58 529.56L1356.71 362.35L1356.85 601L1356.98 358.94L1357.12 458.76L1357.25 448.8L1357.39 324.04L1357.52 411.67L1357.66 497.48L1357.79 376.34L1357.93 523.07L1358.06 397.33L1358.19 457.65L1358.33 530.59L1358.46 284.75L1358.6 449.31L1358.73 556.13L1358.87 461.1L1359 418.36L1359.14 311.37L1359.27 476.75L1359.41 495.36L1359.54 315.13L1359.67 433.78L1359.81 406.96L1359.94 444.52L1360.08 519.28L1360.21 455.24L1360.35 504.3L1360.48 539.03L1360.62 448.07L1360.75 471.36L1360.89 296.73L1361.02 427.06L1361.15 409.11L1361.29 534.75L1361.42 312.44L1361.56 392.49L1361.69 464.85L1361.83 457.03L1361.96 326.26L1362.1 363.32L1362.23 478.39L1362.37 530.79L1362.5 347.64L1362.63 428.39L1362.77 408.76L1362.9 319.82L1363.04 415.23L1363.17 526.77L1363.31 311.22L1363.44 240.75L1363.58 516.42L1363.71 394.95L1363.85 523.6L1363.98 453.51L1364.11 535.73L1364.25 454.45L1364.38 462.07L1364.52 367.06L1364.65 313.08L1364.79 438.09L1364.92 498.8L1365.06 435.13L1365.19 388.16L1365.33 365.46L1365.46 365.7L1365.59 544.75L1365.73 333.21L1365.86 359.32L1366 351.16L1366.13 498.53L1366.27 476.75L1366.4 430.88L1366.54 412.62L1366.67 419.42L1366.81 392.89L1366.94 418.68L1367.07 460.16L1367.21 545.12L1367.34 344.69L1367.48 367.38L1367.61 499.67L1367.75 375.59L1367.88 384.99L1368.02 414.41L1368.15 437.27L1368.29 519.34L1368.42 475.96L1368.55 295.99L1368.69 498.48L1368.82 452.74L1368.96 573.5L1369.09 466.05L1369.23 389.75L1369.36 286.62L1369.5 353.44L1369.63 360.53L1369.77 417.87L1369.9 476.38L1370.03 335.42L1370.17 335.31L1370.3 344.52L1370.44 436.41L1370.57 327.17L1370.71 482.25L1370.84 449.76L1370.98 336.32L1371.11 445.6L1371.25 518.88L1371.38 483.88L1371.51 257.25L1371.65 370.41L1371.78 437.62L1371.92 333.45L1372.05 546.61L1372.19 416.97L1372.32 535.6L1372.46 592.25L1372.59 332.24L1372.73 326.3L1372.86 315.05L1372.99 429.25L1373.13 411.29L1373.26 399.84L1373.4 364.74L1373.53 457.66L1373.67 327.6L1373.8 391.31L1373.94 324.98L1374.07 377.38L1374.21 359.04L1374.34 487.96L1374.47 459.21L1374.61 524.83L1374.74 448.19L1374.88 437.24L1375.01 344.58L1375.15 522.82L1375.28 470.14L1375.42 432.29L1375.55 317.89L1375.69 331.17L1375.82 377.31L1375.95 445.15L1376.09 304.56L1376.22 364.9L1376.36 350.71L1376.49 502.03L1376.63 463.87L1376.76 400.63L1376.9 397.69L1377.03 403.25L1377.17 480.36L1377.3 489.82L1377.43 356.93L1377.57 498.27L1377.7 389.78L1377.84 370.53L1377.97 425.87L1378.11 487.48L1378.24 397.56L1378.38 379.43L1378.51 403.93L1378.65 340.1L1378.78 442.09L1378.91 434.7L1379.05 291L1379.18 367.76L1379.32 371.76L1379.45 397.02L1379.59 514.24L1379.72 584.12L1379.86 443.06L1379.99 412.45L1380.13 520.3L1380.26 511.26L1380.39 370.32L1380.53 331.96L1380.66 473.11L1380.8 485.71L1380.93 488.36L1381.07 317.94L1381.2 376.96L1381.34 427.87L1381.47 333.62L1381.61 427.52L1381.74 323.8L1381.88 533.87L1382.01 429.8L1382.14 459.04L1382.28 453.45L1382.41 520.92L1382.55 457.98L1382.68 512.75L1382.82 391.02L1382.95 418.03L1383.09 533.28L1383.22 376.13L1383.36 466.22L1383.49 362.5L1383.62 376.86L1383.76 428.35L1383.89 303.26L1384.03 467.68L1384.16 490.25L1384.3 453.08L1384.43 521.41L1384.57 462.06L1384.7 556L1384.84 331.28L1384.97 357.73L1385.1 440.09L1385.24 426.77L1385.37 433.28L1385.51 405.07L1385.64 459.57L1385.78 423.99L1385.91 332.58L1386.05 346.01L1386.18 394L1386.32 286.62L1386.45 401.77L1386.58 506.91L1386.72 554.14L1386.85 486.28L1386.99 428.15L1387.12 385.8L1387.26 329.56L1387.39 475.12L1387.53 496.37L1387.66 351.53L1387.8 323.52L1387.93 466.26L1388.06 391.37L1388.2 311.21L1388.33 392.91L1388.47 427.41L1388.6 520.15L1388.74 314.31L1388.87 363.22L1389.01 410.82L1389.14 465.09L1389.28 523.13L1389.41 431.53L1389.54 432.18L1389.68 328.36L1389.81 520.98L1389.95 307.13L1390.08 419.15L1390.22 322.94L1390.35 506.21L1390.49 390.53L1390.62 320.86L1390.76 411.84L1390.89 537L1391.02 452.69L1391.16 373.21L1391.29 536L1391.43 535.4L1391.56 400.77L1391.7 505.03L1391.83 359.85L1391.97 518.7L1392.1 508.89L1392.24 493.64L1392.37 304L1392.5 499.83L1392.64 422.86L1392.77 399.71L1392.91 504.95L1393.04 328.73L1393.18 406.06L1393.31 249.75L1393.45 549.97L1393.58 554.13L1393.72 426.38L1393.85 439.67L1393.98 443.3L1394.12 355.87L1394.25 328L1394.39 445.47L1394.52 446.85L1394.66 380.86L1394.79 301.67L1394.93 497.31L1395.06 364.74L1395.2 444.8L1395.33 452.83L1395.46 347.37L1395.6 494.63L1395.73 511.81L1395.87 361.07L1396 424.4L1396.14 446.25L1396.27 287.25L1396.41 376.5L1396.54 455.99L1396.68 351.85L1396.81 384.06L1396.94 304.54L1397.08 317.93L1397.21 343.4L1397.35 440.58L1397.48 411.13L1397.62 476.33L1397.75 433.79L1397.89 442.27L1398.02 370.97L1398.16 312.1L1398.29 529.86L1398.42 497.22L1398.56 544.12L1398.69 234.12L1398.83 523.95L1398.96 469.17L1399.1 316.16L1399.23 355.4L1399.37 418.55L1399.5 419.13L1399.64 467.51L1399.77 357.87L1399.9 382.63L1400.04 512.3L1400.17 402.69L1400.31 439.29L1400.44 469.11L1400.58 506.71L1400.71 483.52L1400.85 503.96L1400.98 379.31L1401.12 388.11L1401.25 392.02L1401.38 438.26L1401.52 458.9L1401.65 425.76L1401.79 515.25L1401.92 321.94L1402.06 389.1L1402.19 415.16L1402.33 468.11L1402.46 441.52L1402.6 518.57L1402.73 531.04L1402.86 431.68L1403 366.26L1403.13 344.54L1403.27 326.89L1403.4 498.48L1403.54 541.24L1403.67 396.47L1403.81 401.97L1403.94 411.16L1404.08 382.7L1404.21 352.95L1404.34 549.12L1404.48 337.33L1404.61 418.82L1404.75 342.14L1404.88 545.44L1405.02 433.25L1405.15 520.45L1405.29 309.55L1405.42 393.99L1405.56 371.52L1405.69 525.41L1405.82 431.42L1405.96 418.39L1406.09 402.88L1406.23 328.17L1406.36 336.17L1406.5 423.69L1406.63 311.08L1406.77 466.45L1406.9 472.17L1407.04 307.94L1407.17 445.38L1407.3 529.62L1407.44 281.62L1407.57 415.62L1407.71 338.86L1407.84 302.68L1407.98 436.52L1408.11 463.77L1408.25 367.02L1408.38 462.76L1408.52 305.31L1408.65 399.36L1408.78 399.1L1408.92 442.37L1409.05 393.63L1409.19 463.35L1409.32 277.88L1409.46 650.21L1409.59 480.36L1409.73 392.94L1409.86 412.98L1410 444.81L1410.13 439.08L1410.26 441.72L1410.4 440.49L1410.53 421.63L1410.67 475.19L1410.8 447.88L1410.94 360.13L1411.07 439.17L1411.21 434.61L1411.34 444.28L1411.48 405.74L1411.61 385.05L1411.74 380.2L1411.88 420.6L1412.01 510.81L1412.15 319.01L1412.28 347.48L1412.42 326.95L1412.55 315.14L1412.69 407.73L1412.82 324.52L1412.96 424.29L1413.09 431.96L1413.22 540.1L1413.36 492.53L1413.49 539.12L1413.63 338.25L1413.76 454.25L1413.9 463.82L1414.03 386.8L1414.17 250.62L1414.3 491.72L1414.44 551.17L1414.57 489.85L1414.7 533.68L1414.84 449.86L1414.97 433.93L1415.11 437.54L1415.24 436.39L1415.38 376.78L1415.51 502.85L1415.65 340.16L1415.78 367.09L1415.92 415.37L1416.05 385.53L1416.18 493.52L1416.32 543.49L1416.45 362.74L1416.59 482.75L1416.72 349.67L1416.86 350.9L1416.99 421.71L1417.13 421.33L1417.26 334.41L1417.4 386.78L1417.53 503L1417.66 405.86L1417.8 370.59L1417.93 402.69L1418.07 403.9L1418.2 434.67L1418.34 432.03L1418.47 503.07L1418.61 533.27L1418.74 326.33L1418.88 479.32L1419.01 400.92L1419.14 537.55L1419.28 406.76L1419.41 496.66L1419.55 306.87L1419.68 507.93L1419.82 504.79L1419.95 337.22L1420.09 325.74L1420.22 539.86L1420.36 398.01L1420.49 341.17L1420.62 557.25L1420.76 358.96L1420.89 469.32L1421.03 232.25L1421.16 453.24L1421.3 463.34L1421.43 530.59L1421.57 404.71L1421.7 462.77L1421.84 489.3L1421.97 343.54L1422.11 427.92L1422.24 313.84L1422.37 445.65L1422.51 606L1422.64 412.86L1422.78 406.17L1422.91 440.29L1423.05 430.84L1423.18 292.85L1423.32 483.25L1423.45 471.05L1423.59 452.61L1423.72 369.46L1423.85 384.87L1423.99 337.91L1424.12 527.42L1424.26 397.77L1424.39 437.38L1424.53 447.39L1424.66 277.62L1424.8 418.83L1424.93 396.54L1425.07 408.22L1425.2 532.79L1425.33 429.99L1425.47 460.14L1425.6 456.6L1425.74 367.49L1425.87 441.83L1426.01 495.05L1426.14 501.99L1426.28 457.43L1426.41 316.13L1426.55 347.23L1426.68 485.43L1426.81 334.27L1426.95 432.94L1427.08 484.05L1427.22 382.27L1427.35 501.42L1427.49 541.32L1427.62 316.54L1427.76 368.32L1427.89 372.17L1428.03 538.49L1428.16 423.94L1428.29 439.23L1428.43 461.12L1428.56 476.93L1428.7 431.13L1428.83 424.6L1428.97 500.46L1429.1 427.37L1429.24 334.64L1429.37 486.26L1429.51 397.9L1429.64 515.32L1429.77 386.56L1429.91 363.25L1430.04 369.52L1430.18 339.76L1430.31 381.92L1430.45 309.58L1430.58 560.38L1430.72 329.99L1430.85 470.31L1430.99 477.01L1431.12 328.6L1431.25 399.81L1431.39 314.65L1431.52 533.27L1431.66 396.27L1431.79 468.35L1431.93 445.25L1432.06 323.41L1432.2 337.79L1432.33 401.77L1432.47 505.08L1432.6 526.75L1432.73 498.22L1432.87 310.19L1433 429.62L1433.14 450.64L1433.27 376.01L1433.41 244.12L1433.54 399.49L1433.68 353.32L1433.81 390.45L1433.95 341.09L1434.08 516.92L1434.21 414.49L1434.35 452.05L1434.48 410.45L1434.62 423.6L1434.75 477.15L1434.89 451.3L1435.02 336.8L1435.16 469.49L1435.29 519.64L1435.43 366.23L1435.56 571L1435.69 443.85L1435.83 408.05L1435.96 494.8L1436.1 437.65L1436.23 327.29L1436.37 347.28L1436.5 405.97L1436.64 443.94L1436.77 542.52L1436.91 288.5L1437.04 377.98L1437.17 330.2L1437.31 307.24L1437.44 385.2L1437.58 335.82L1437.71 511.17L1437.85 321.19L1437.98 341.01L1438.12 311.58L1438.25 358.25L1438.39 378.17L1438.52 304.55L1438.65 478.19L1438.79 360.9L1438.92 328.33L1439.06 488.86L1439.19 512.85L1439.33 379.59L1439.46 407.24L1439.6 363.83L1439.73 360.58L1439.87 486.74" fill="none" stroke="#4c72b0" stroke-opacity="0.5" stroke-width="2.5" stroke-linejoin="round" stroke-linecap="square"/>
<path d="M200 418.8H1439.87" fill="none" stroke="#dd8452" stroke-opacity="0.5" stroke-width="2.08"/>
</g>
<g class="g" clip-path="url(#ax)">
<path d="M200 684.5H1440"/>
<path d="M200 628.5H1440"/>
<path d="M200 572.5H1440"/>
<path d="M200 516.5H1440"/>
<path d="M200 460.5H1440"/>
<path d="M200 404.5H1440"/>
<path d="M200 348.5H1440"/>
<path d="M200 292.5H1440"/>
<path d="M200 236.5H1440"/>
<path d="M200 180.5H1440"/>
<path d="M200 124.5H1440"/>
</g>
<g clip-path="url(#ax)" stroke="#000" stroke-opacity="0.45" stroke-width="2.08" fill="none">
<path d="M243 124V684"/>
<path d="M260 124V684"/>
<path d="M286 124V684"/>
<path d="M303 124V684"/>
<path d="M958 124V684"/>
<path d="M984 124V684"/>
<path d="M1001 124V684"/>
<path d="M1139 124V684"/>
</g>
<path clip-path="url(#ax)" d="M200 544L208.61 682.88L217.22 683.72L225.83 684L234.44 683.72L243.06 682.88L251.67 153.68L260.28 124L268.89 626.32L277.5 681.76L286.11 652.08L294.72 139.68L303.33 124.56L311.94 198.48L320.56 674.76L329.17 682.32L337.78 683.72L346.39 684L355 684L363.61 684L372.22 684L380.83 684L389.44 684L398.06 684L406.67 684L415.28 684L423.89 684L432.5 684L441.11 684L449.72 684L458.33 684L466.94 684L475.56 684L484.17 684L492.78 684L501.39 684L510 684L518.61 684L527.22 684L535.83 684L544.44 684L553.06 684L561.67 684L570.28 684L578.89 684L587.5 684L596.11 684L604.72 684L613.33 684L621.94 684L630.56 684L639.17 684L647.78 684L656.39 683.72L665 680.08L673.61 678.79L682.22 683.72L690.83 684L699.44 684L708.06 684L716.67 684L725.28 684L733.89 683.44L742.5 658.41L751.11 682.88L759.72 684L768.33 684L776.94 684L785.56 684L794.17 683.44L802.78 684L811.39 684L820 684L828.61 684L837.22 684L845.83 684L854.44 684L863.06 684L871.67 683.83L880.28 678.01L888.89 637.58L897.5 684L906.11 684L914.72 684L923.33 684L931.94 684L940.56 684L949.17 684L957.78 683.44L966.39 128.59L975 124L983.61 125.12L992.22 682.32L1000.83 683.61L1009.44 175.63L1018.06 124L1026.67 124L1035.28 124L1043.89 124L1052.5 124L1061.11 124L1069.72 124L1078.33 124L1086.94 124L1095.56 124L1104.17 124L1112.78 124L1121.39 124L1130 124L1138.61 126.24L1147.22 608.12L1155.83 679.8L1164.44 683.1L1173.06 683.83L1181.67 684L1190.28 684L1198.89 684L1207.5 684L1216.11 684L1224.72 684L1233.33 684L1241.94 684L1250.56 684L1259.17 683.72L1267.78 683.1L1276.39 683.72L1285 684L1293.61 684L1302.22 684L1310.83 684L1319.44 684L1328.06 684L1336.67 684L1345.28 684L1353.89 684L1362.5 684L1371.11 684L1379.72 683.83L1388.33 680.64L1396.94 683.83L1405.56 684L1414.17 684L1422.78 684L1431.39 684" fill="none" stroke="#55a868" stroke-width="2.08" stroke-linejoin="round" stroke-linecap="square"/>
<text class="an" x="227.56" y="124">SNR_opt=0.0</text>
<text class="an" x="558.22" y="124"><tspan font-style="italic">SNR</tspan><tspan font-style="italic" font-size="14.58px" dy="3.4" dx="0.6">M</tspan><tspan font-style="italic" dy="-3.4" dx="0.2">F</tspan><tspan dx="1">=[4.58]</tspan></text>
<text class="an" x="971.56" y="124"><tspan font-style="italic">S</tspan><tspan dx="1">=0.01</tspan></text>
<text class="an" x="1109.33" y="124"><tspan font-style="italic">M</tspan><tspan font-style="italic" font-size="14.58px" dy="3.4" dx="0.6">c</tspan><tspan dy="-3.4" dx="1">=13.06</tspan></text>
<rect x="200" y="96" width="1240" height="616" fill="none" stroke="#fff" stroke-width="1.74"/>
<g class="t">
<path d="M192 639H200"/>
<path d="M192 566H200"/>
<path d="M192 492H200"/>
<path d="M192 419H200"/>
<path d="M192 345H200"/>
<path d="M192 272H200"/>
<path d="M192 199H200"/>
<path d="M192 125H200"/>
<path d="M1440 684H1448.3"/>
<path d="M1440 628H1448.3"/>
<path d="M1440 572H1448.3"/>
<path d="M1440 516H1448.3"/>
<path d="M1440 460H1448.3"/>
<path d="M1440 404H1448.3"/>
<path d="M1440 348H1448.3"/>
<path d="M1440 292H1448.3"/>
<path d="M1440 236H1448.3"/>
<path d="M1440 180H1448.3"/>
<path d="M1440 124H1448.3"/>
</g>
<path d="M200 96V712M1440 96V712" stroke="#fff" stroke-width="1.74" fill="none" stroke-linecap="square"/>
<g class="tk">
<text x="200" y="737.4" text-anchor="middle">0.0</text>
<text x="268.89" y="737.4" text-anchor="middle">0.5</text>
<text x="337.78" y="737.4" text-anchor="middle">1.0</text>
<text x="406.67" y="737.4" text-anchor="middle">1.5</text>
<text x="475.56" y="737.4" text-anchor="middle">2.0</text>
<text x="544.44" y="737.4" text-anchor="middle">2.5</text>
<text x="613.33" y="737.4" text-anchor="middle">3.0</text>
<text x="682.22" y="737.4" text-anchor="middle">3.5</text>
<text x="751.11" y="737.4" text-anchor="middle">4.0</text>
<text x="820" y="737.4" text-anchor="middle">4.5</text>
<text x="888.89" y="737.4" text-anchor="middle">5.0</text>
<text x="957.78" y="737.4" text-anchor="middle">5.5</text>
<text x="1026.67" y="737.4" text-anchor="middle">6.0</text>
<text x="1095.56" y="737.4" text-anchor="middle">6.5</text>
<text x="1164.44" y="737.4" text-anchor="middle">7.0</text>
<text x="1233.33" y="737.4" text-anchor="middle">7.5</text>
<text x="1302.22" y="737.4" text-anchor="middle">8.0</text>
<text x="1371.11" y="737.4" text-anchor="middle">8.5</text>
<text x="186.8" y="644.6" text-anchor="end">−3</text>
<text x="186.8" y="571.6" text-anchor="end">−2</text>
<text x="186.8" y="497.6" text-anchor="end">−1</text>
<text x="186.8" y="424.6" text-anchor="end">0</text>
<text x="186.8" y="350.6" text-anchor="end">1</text>
<text x="186.8" y="277.6" text-anchor="end">2</text>
<text x="186.8" y="204.6" text-anchor="end">3</text>
<text x="186.8" y="130.6" text-anchor="end">4</text>
<text x="1453.2" y="689.6">0.0</text>
<text x="1453.2" y="633.6">0.1</text>
<text x="1453.2" y="577.6">0.2</text>
<text x="1453.2" y="521.6">0.3</text>
<text x="1453.2" y="465.6">0.4</text>
<text x="1453.2" y="409.6">0.5</text>
<text x="1453.2" y="353.6">0.6</text>
<text x="1453.2" y="297.6">0.7</text>
<text x="1453.2" y="241.6">0.8</text>
<text x="1453.2" y="185.6">0.9</text>
<text x="1453.2" y="129.6">1.0</text>
</g>
<text class="lb" x="820" y="759.0" text-anchor="middle">Time (s)</text>
<text class="lb" x="820" y="87.7" text-anchor="middle">stats at each timestep for test data 6439 [signal=0]</text>
<text class="lb" transform="translate(153.7 404.4) rotate(-90)" text-anchor="middle">Whitened strain</text>
<text class="lb" transform="translate(1495.6 404.9) rotate(-90)" text-anchor="middle">Detection probability/MF</text>
<rect x="320.3" y="648.6" width="174.1" height="71.6" rx="2.8" ry="2.8" fill="#eaeaf2" fill-opacity="0.8" stroke="#cccccc" stroke-opacity="0.8" stroke-width="1.39"/>
<path d="M326.4 660.1H357" stroke="#4c72b0" stroke-opacity="0.5" stroke-width="2.08" stroke-linecap="square" fill="none"/>
<text class="tk" x="369.2" y="665.5">signal+ noise</text>
<path d="M326.4 683.2H357" stroke="#dd8452" stroke-opacity="0.5" stroke-width="2.08" stroke-linecap="square" fill="none"/>
<text class="tk" x="369.2" y="687.6">signal only</text>
<path d="M326.4 706.1H357" stroke="#55a868" stroke-opacity="1" stroke-width="2.08" stroke-linecap="square" fill="none"/>
<text class="tk" x="369.2" y="710.5">signal statistics</text>
</svg></body></html>
